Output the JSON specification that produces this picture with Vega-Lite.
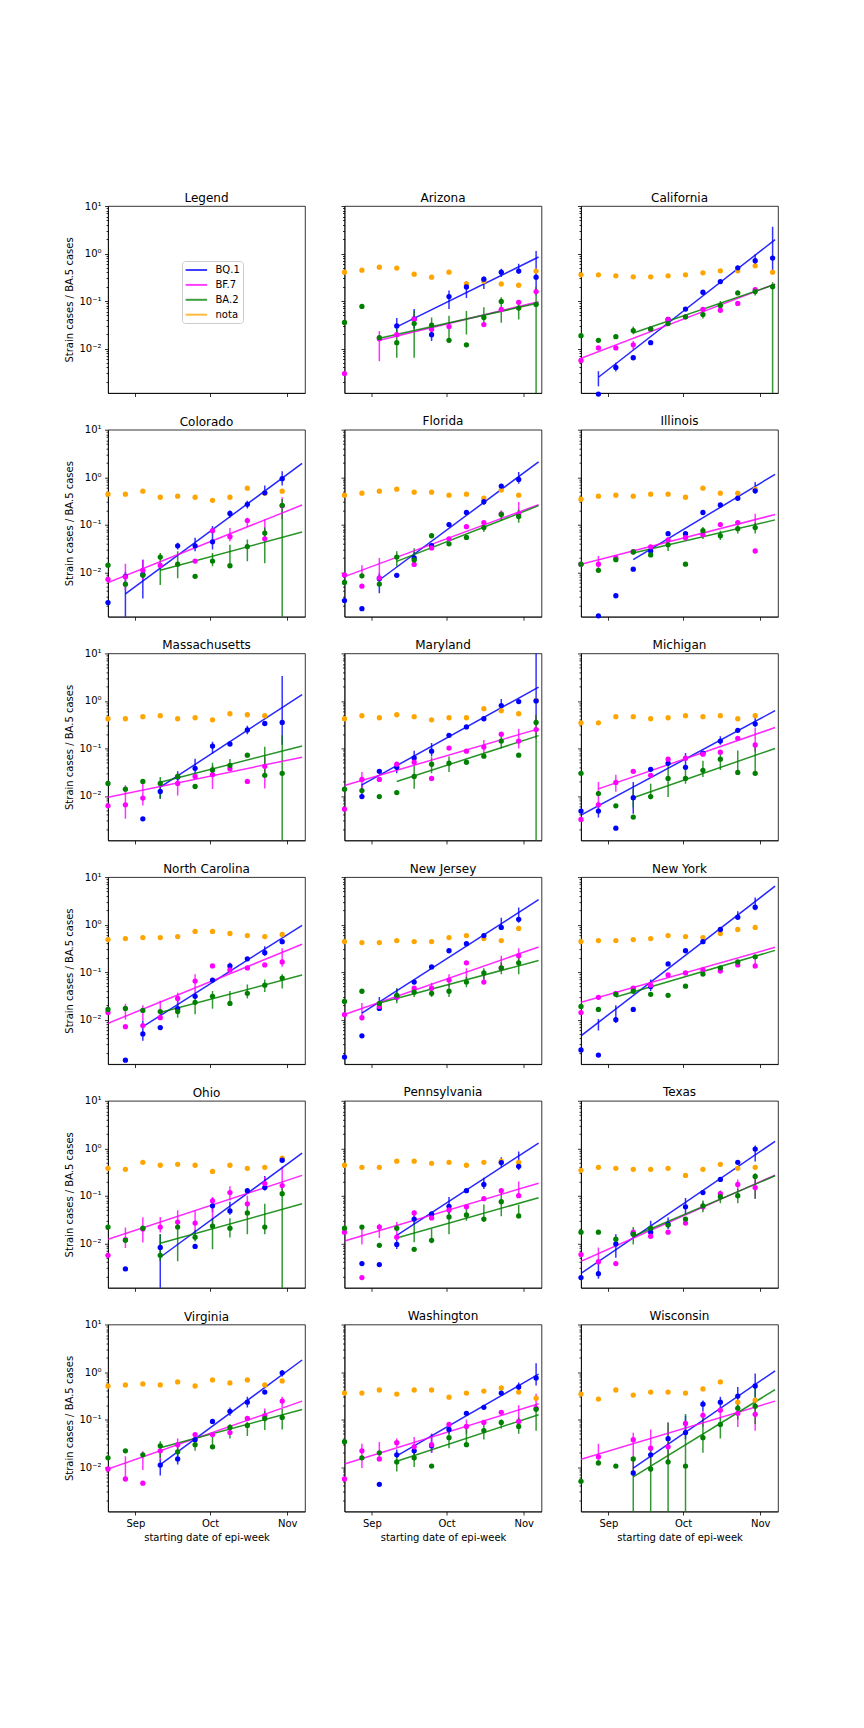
{
"$schema": "https://vega.github.io/schema/vega-lite/v6.json",
"padding": {"left": 64, "top": 191, "right": 10, "bottom": 10},
"background": "white",
"columns": 3,
"bounds": "flush",
"spacing": {"row": 36.7, "column": 39.5},
"data": {"values": [
{"s":"AZ","v":"nota","d":"2022-08-21","k":"p","y":0.405},{"s":"AZ","v":"nota","d":"2022-08-28","k":"p","y":0.447},{"s":"AZ","v":"nota","d":"2022-09-04","k":"p","y":0.517},{"s":"AZ","v":"nota","d":"2022-09-11","k":"p","y":0.493},{"s":"AZ","v":"nota","d":"2022-09-18","k":"p","y":0.367},{"s":"AZ","v":"nota","d":"2022-09-25","k":"p","y":0.318},{"s":"AZ","v":"nota","d":"2022-10-02","k":"p","y":0.405},{"s":"AZ","v":"nota","d":"2022-10-09","k":"p","y":0.229},{"s":"AZ","v":"nota","d":"2022-10-16","k":"p","y":0.261},{"s":"AZ","v":"nota","d":"2022-10-23","k":"p","y":0.229},{"s":"AZ","v":"nota","d":"2022-10-30","k":"p","y":0.215},{"s":"AZ","v":"nota","d":"2022-11-06","k":"p","y":0.426},
{"s":"AZ","v":"BQ.1","d":"2022-09-11","k":"p","y":0.03,"lo":0.02,"hi":0.044},{"s":"AZ","v":"BQ.1","d":"2022-09-18","k":"p","y":0.042,"lo":0.026,"hi":0.068},{"s":"AZ","v":"BQ.1","d":"2022-09-25","k":"p","y":0.0196,"lo":0.0144,"hi":0.0286},{"s":"AZ","v":"BQ.1","d":"2022-10-02","k":"p","y":0.124,"lo":0.0676,"hi":0.166},{"s":"AZ","v":"BQ.1","d":"2022-10-09","k":"p","y":0.198,"lo":0.116,"hi":0.261},{"s":"AZ","v":"BQ.1","d":"2022-10-16","k":"p","y":0.288,"lo":0.18,"hi":0.33},{"s":"AZ","v":"BQ.1","d":"2022-10-23","k":"p","y":0.405,"lo":0.32,"hi":0.48},{"s":"AZ","v":"BQ.1","d":"2022-10-30","k":"p","y":0.426,"lo":0.375,"hi":0.608},{"s":"AZ","v":"BQ.1","d":"2022-11-06","k":"p","y":0.318,"lo":0.17,"hi":1.13},
{"s":"AZ","v":"BQ.1","d":"2022-09-11","k":"f","y":0.0286},{"s":"AZ","v":"BQ.1","d":"2022-11-07","k":"f","y":0.843},
{"s":"AZ","v":"BF.7","d":"2022-08-21","k":"p","y":0.00297},{"s":"AZ","v":"BF.7","d":"2022-09-04","k":"p","y":0.016,"lo":0.0054,"hi":0.0235},{"s":"AZ","v":"BF.7","d":"2022-09-11","k":"p","y":0.0196},{"s":"AZ","v":"BF.7","d":"2022-09-18","k":"p","y":0.0415,"lo":0.033,"hi":0.052},{"s":"AZ","v":"BF.7","d":"2022-09-25","k":"p","y":0.0255},{"s":"AZ","v":"BF.7","d":"2022-10-02","k":"p","y":0.029},{"s":"AZ","v":"BF.7","d":"2022-10-16","k":"p","y":0.032},{"s":"AZ","v":"BF.7","d":"2022-10-23","k":"p","y":0.0665},{"s":"AZ","v":"BF.7","d":"2022-10-30","k":"p","y":0.094},{"s":"AZ","v":"BF.7","d":"2022-11-06","k":"p","y":0.158,"lo":0.131,"hi":0.195},
{"s":"AZ","v":"BF.7","d":"2022-09-04","k":"f","y":0.0149},{"s":"AZ","v":"BF.7","d":"2022-11-07","k":"f","y":0.0968},
{"s":"AZ","v":"BA.2","d":"2022-08-21","k":"p","y":0.0353},{"s":"AZ","v":"BA.2","d":"2022-08-28","k":"p","y":0.077},{"s":"AZ","v":"BA.2","d":"2022-09-04","k":"p","y":0.017},{"s":"AZ","v":"BA.2","d":"2022-09-11","k":"p","y":0.0133,"lo":0.0064,"hi":0.0255},{"s":"AZ","v":"BA.2","d":"2022-09-18","k":"p","y":0.0336,"lo":0.0064,"hi":0.0624},{"s":"AZ","v":"BA.2","d":"2022-09-25","k":"p","y":0.031,"lo":0.017,"hi":0.045},{"s":"AZ","v":"BA.2","d":"2022-10-02","k":"p","y":0.0149,"lo":0.0145,"hi":0.049},{"s":"AZ","v":"BA.2","d":"2022-10-09","k":"p","y":0.012,"lo":0.0197,"hi":0.062},{"s":"AZ","v":"BA.2","d":"2022-10-16","k":"p","y":0.045,"lo":0.03,"hi":0.074},{"s":"AZ","v":"BA.2","d":"2022-10-23","k":"p","y":0.098,"lo":0.035,"hi":0.12},{"s":"AZ","v":"BA.2","d":"2022-10-30","k":"p","y":0.071,"lo":0.041,"hi":0.1},{"s":"AZ","v":"BA.2","d":"2022-11-06","k":"p","y":0.085,"lo":0.0001,"hi":0.195},
{"s":"AZ","v":"BA.2","d":"2022-09-04","k":"f","y":0.0164},{"s":"AZ","v":"BA.2","d":"2022-11-07","k":"f","y":0.0907},

{"s":"CA","v":"nota","d":"2022-08-21","k":"p","y":0.356},{"s":"CA","v":"nota","d":"2022-08-28","k":"p","y":0.356},{"s":"CA","v":"nota","d":"2022-09-04","k":"p","y":0.339},{"s":"CA","v":"nota","d":"2022-09-11","k":"p","y":0.323},{"s":"CA","v":"nota","d":"2022-09-18","k":"p","y":0.323},{"s":"CA","v":"nota","d":"2022-09-25","k":"p","y":0.339},{"s":"CA","v":"nota","d":"2022-10-02","k":"p","y":0.356},{"s":"CA","v":"nota","d":"2022-10-09","k":"p","y":0.393},{"s":"CA","v":"nota","d":"2022-10-16","k":"p","y":0.433},{"s":"CA","v":"nota","d":"2022-10-23","k":"p","y":0.433},{"s":"CA","v":"nota","d":"2022-10-30","k":"p","y":0.552},{"s":"CA","v":"nota","d":"2022-11-06","k":"p","y":0.405},
{"s":"CA","v":"BQ.1","d":"2022-08-28","k":"p","y":0.0011,"lo":0.0016,"hi":0.00334},{"s":"CA","v":"BQ.1","d":"2022-09-04","k":"p","y":0.004,"lo":0.0033,"hi":0.005},{"s":"CA","v":"BQ.1","d":"2022-09-11","k":"p","y":0.0064},{"s":"CA","v":"BQ.1","d":"2022-09-18","k":"p","y":0.0133},{"s":"CA","v":"BQ.1","d":"2022-09-25","k":"p","y":0.041},{"s":"CA","v":"BQ.1","d":"2022-10-02","k":"p","y":0.0676},{"s":"CA","v":"BQ.1","d":"2022-10-09","k":"p","y":0.153},{"s":"CA","v":"BQ.1","d":"2022-10-16","k":"p","y":0.257},{"s":"CA","v":"BQ.1","d":"2022-10-23","k":"p","y":0.501},{"s":"CA","v":"BQ.1","d":"2022-10-30","k":"p","y":0.705,"lo":0.6,"hi":0.95},{"s":"CA","v":"BQ.1","d":"2022-11-06","k":"p","y":0.803,"lo":0.405,"hi":3.65},
{"s":"CA","v":"BQ.1","d":"2022-08-28","k":"f","y":0.00249},{"s":"CA","v":"BQ.1","d":"2022-11-07","k":"f","y":1.96},
{"s":"CA","v":"BF.7","d":"2022-08-21","k":"p","y":0.0056},{"s":"CA","v":"BF.7","d":"2022-08-28","k":"p","y":0.0103},{"s":"CA","v":"BF.7","d":"2022-09-04","k":"p","y":0.0103},{"s":"CA","v":"BF.7","d":"2022-09-11","k":"p","y":0.012,"lo":0.0095,"hi":0.0145},{"s":"CA","v":"BF.7","d":"2022-09-18","k":"p","y":0.0255},{"s":"CA","v":"BF.7","d":"2022-09-25","k":"p","y":0.041},{"s":"CA","v":"BF.7","d":"2022-10-02","k":"p","y":0.0466},{"s":"CA","v":"BF.7","d":"2022-10-09","k":"p","y":0.067},{"s":"CA","v":"BF.7","d":"2022-10-16","k":"p","y":0.064},{"s":"CA","v":"BF.7","d":"2022-10-23","k":"p","y":0.089},{"s":"CA","v":"BF.7","d":"2022-10-30","k":"p","y":0.174},
{"s":"CA","v":"BF.7","d":"2022-08-21","k":"f","y":0.0062},{"s":"CA","v":"BF.7","d":"2022-11-07","k":"f","y":0.229},
{"s":"CA","v":"BA.2","d":"2022-08-21","k":"p","y":0.0187},{"s":"CA","v":"BA.2","d":"2022-08-28","k":"p","y":0.0149},{"s":"CA","v":"BA.2","d":"2022-09-04","k":"p","y":0.0178},{"s":"CA","v":"BA.2","d":"2022-09-11","k":"p","y":0.0239,"lo":0.02,"hi":0.029},{"s":"CA","v":"BA.2","d":"2022-09-18","k":"p","y":0.0259},{"s":"CA","v":"BA.2","d":"2022-09-25","k":"p","y":0.0336},{"s":"CA","v":"BA.2","d":"2022-10-02","k":"p","y":0.0466},{"s":"CA","v":"BA.2","d":"2022-10-09","k":"p","y":0.052,"lo":0.043,"hi":0.064},{"s":"CA","v":"BA.2","d":"2022-10-16","k":"p","y":0.081,"lo":0.067,"hi":0.1},{"s":"CA","v":"BA.2","d":"2022-10-23","k":"p","y":0.148},{"s":"CA","v":"BA.2","d":"2022-10-30","k":"p","y":0.158,"lo":0.13,"hi":0.19},{"s":"CA","v":"BA.2","d":"2022-11-06","k":"p","y":0.2,"lo":0.0001,"hi":0.249},
{"s":"CA","v":"BA.2","d":"2022-09-11","k":"f","y":0.0213},{"s":"CA","v":"BA.2","d":"2022-11-07","k":"f","y":0.224},

{"s":"CO","v":"nota","d":"2022-08-21","k":"p","y":0.44},{"s":"CO","v":"nota","d":"2022-08-28","k":"p","y":0.44},{"s":"CO","v":"nota","d":"2022-09-04","k":"p","y":0.508},{"s":"CO","v":"nota","d":"2022-09-11","k":"p","y":0.379},{"s":"CO","v":"nota","d":"2022-09-18","k":"p","y":0.398},{"s":"CO","v":"nota","d":"2022-09-25","k":"p","y":0.379},{"s":"CO","v":"nota","d":"2022-10-02","k":"p","y":0.327},{"s":"CO","v":"nota","d":"2022-10-09","k":"p","y":0.379},{"s":"CO","v":"nota","d":"2022-10-16","k":"p","y":0.589},{"s":"CO","v":"nota","d":"2022-10-23","k":"p","y":0.461},{"s":"CO","v":"nota","d":"2022-10-30","k":"p","y":0.508},
{"s":"CO","v":"BQ.1","d":"2022-08-21","k":"p","y":0.0023},{"s":"CO","v":"BQ.1","d":"2022-08-28","k":"p","y":0.0082,"lo":0.0005,"hi":0.0103},{"s":"CO","v":"BQ.1","d":"2022-09-04","k":"p","y":0.009,"lo":0.0028,"hi":0.0184},{"s":"CO","v":"BQ.1","d":"2022-09-18","k":"p","y":0.0359,"lo":0.03,"hi":0.042},{"s":"CO","v":"BQ.1","d":"2022-09-25","k":"p","y":0.0359,"lo":0.0275,"hi":0.053},{"s":"CO","v":"BQ.1","d":"2022-10-02","k":"p","y":0.0437,"lo":0.03,"hi":0.094},{"s":"CO","v":"BQ.1","d":"2022-10-09","k":"p","y":0.173,"lo":0.14,"hi":0.2},{"s":"CO","v":"BQ.1","d":"2022-10-16","k":"p","y":0.269,"lo":0.22,"hi":0.32},{"s":"CO","v":"BQ.1","d":"2022-10-23","k":"p","y":0.47,"lo":0.41,"hi":0.67},{"s":"CO","v":"BQ.1","d":"2022-10-30","k":"p","y":0.93,"lo":0.67,"hi":1.34},
{"s":"CO","v":"BQ.1","d":"2022-08-28","k":"f","y":0.0035},{"s":"CO","v":"BQ.1","d":"2022-11-07","k":"f","y":1.95},
{"s":"CO","v":"BF.7","d":"2022-08-21","k":"p","y":0.0071},{"s":"CO","v":"BF.7","d":"2022-08-28","k":"p","y":0.008,"lo":0.0042,"hi":0.0151},{"s":"CO","v":"BF.7","d":"2022-09-04","k":"p","y":0.011,"lo":0.0069,"hi":0.0184},{"s":"CO","v":"BF.7","d":"2022-09-11","k":"p","y":0.0139},{"s":"CO","v":"BF.7","d":"2022-09-25","k":"p","y":0.0172},{"s":"CO","v":"BF.7","d":"2022-10-02","k":"p","y":0.075},{"s":"CO","v":"BF.7","d":"2022-10-09","k":"p","y":0.0558,"lo":0.045,"hi":0.085},{"s":"CO","v":"BF.7","d":"2022-10-16","k":"p","y":0.1225,"lo":0.09,"hi":0.14},{"s":"CO","v":"BF.7","d":"2022-10-23","k":"p","y":0.0506,"lo":0.05,"hi":0.13},{"s":"CO","v":"BF.7","d":"2022-10-30","k":"p","y":0.25,"lo":0.13,"hi":0.38},
{"s":"CO","v":"BF.7","d":"2022-08-21","k":"f","y":0.0061},{"s":"CO","v":"BF.7","d":"2022-11-07","k":"f","y":0.26},
{"s":"CO","v":"BA.2","d":"2022-08-21","k":"p","y":0.0141},{"s":"CO","v":"BA.2","d":"2022-08-28","k":"p","y":0.0056},{"s":"CO","v":"BA.2","d":"2022-09-04","k":"p","y":0.0086},{"s":"CO","v":"BA.2","d":"2022-09-11","k":"p","y":0.0209,"lo":0.0054,"hi":0.0255},{"s":"CO","v":"BA.2","d":"2022-09-18","k":"p","y":0.0148,"lo":0.0075,"hi":0.0277},{"s":"CO","v":"BA.2","d":"2022-09-25","k":"p","y":0.0082},{"s":"CO","v":"BA.2","d":"2022-10-02","k":"p","y":0.0172,"lo":0.0133,"hi":0.0255},{"s":"CO","v":"BA.2","d":"2022-10-09","k":"p","y":0.0137,"lo":0.0155,"hi":0.038},{"s":"CO","v":"BA.2","d":"2022-10-16","k":"p","y":0.0347,"lo":0.0171,"hi":0.049},{"s":"CO","v":"BA.2","d":"2022-10-23","k":"p","y":0.0668,"lo":0.0155,"hi":0.087},{"s":"CO","v":"BA.2","d":"2022-10-30","k":"p","y":0.256,"lo":0.0001,"hi":0.35},
{"s":"CO","v":"BA.2","d":"2022-09-11","k":"f","y":0.011},{"s":"CO","v":"BA.2","d":"2022-11-07","k":"f","y":0.0703},

{"s":"FL","v":"nota","d":"2022-08-21","k":"p","y":0.418},{"s":"FL","v":"nota","d":"2022-08-28","k":"p","y":0.461},{"s":"FL","v":"nota","d":"2022-09-04","k":"p","y":0.508},{"s":"FL","v":"nota","d":"2022-09-11","k":"p","y":0.561},{"s":"FL","v":"nota","d":"2022-09-18","k":"p","y":0.484},{"s":"FL","v":"nota","d":"2022-09-25","k":"p","y":0.484},{"s":"FL","v":"nota","d":"2022-10-02","k":"p","y":0.418},{"s":"FL","v":"nota","d":"2022-10-09","k":"p","y":0.44},{"s":"FL","v":"nota","d":"2022-10-16","k":"p","y":0.361},{"s":"FL","v":"nota","d":"2022-10-23","k":"p","y":0.535},{"s":"FL","v":"nota","d":"2022-10-30","k":"p","y":0.418},
{"s":"FL","v":"BQ.1","d":"2022-08-21","k":"p","y":0.00254},{"s":"FL","v":"BQ.1","d":"2022-08-28","k":"p","y":0.00171},{"s":"FL","v":"BQ.1","d":"2022-09-04","k":"p","y":0.0073,"lo":0.0036,"hi":0.0095},{"s":"FL","v":"BQ.1","d":"2022-09-11","k":"p","y":0.0086},{"s":"FL","v":"BQ.1","d":"2022-09-18","k":"p","y":0.02,"lo":0.016,"hi":0.027},{"s":"FL","v":"BQ.1","d":"2022-09-25","k":"p","y":0.0365},{"s":"FL","v":"BQ.1","d":"2022-10-02","k":"p","y":0.1007},{"s":"FL","v":"BQ.1","d":"2022-10-09","k":"p","y":0.181},{"s":"FL","v":"BQ.1","d":"2022-10-16","k":"p","y":0.306,"lo":0.26,"hi":0.4},{"s":"FL","v":"BQ.1","d":"2022-10-23","k":"p","y":0.65},{"s":"FL","v":"BQ.1","d":"2022-10-30","k":"p","y":0.9,"lo":0.73,"hi":1.29},
{"s":"FL","v":"BQ.1","d":"2022-09-04","k":"f","y":0.00687},{"s":"FL","v":"BQ.1","d":"2022-11-07","k":"f","y":2.11},
{"s":"FL","v":"BF.7","d":"2022-08-21","k":"p","y":0.0088},{"s":"FL","v":"BF.7","d":"2022-08-28","k":"p","y":0.0051,"lo":0.0075,"hi":0.0141},{"s":"FL","v":"BF.7","d":"2022-09-04","k":"p","y":0.0076,"lo":0.0076,"hi":0.0199},{"s":"FL","v":"BF.7","d":"2022-09-18","k":"p","y":0.0146},{"s":"FL","v":"BF.7","d":"2022-09-25","k":"p","y":0.0325},{"s":"FL","v":"BF.7","d":"2022-10-02","k":"p","y":0.0506},{"s":"FL","v":"BF.7","d":"2022-10-09","k":"p","y":0.0912},{"s":"FL","v":"BF.7","d":"2022-10-16","k":"p","y":0.111},{"s":"FL","v":"BF.7","d":"2022-10-23","k":"p","y":0.17},{"s":"FL","v":"BF.7","d":"2022-10-30","k":"p","y":0.17,"lo":0.13,"hi":0.3},
{"s":"FL","v":"BF.7","d":"2022-08-21","k":"f","y":0.0081},{"s":"FL","v":"BF.7","d":"2022-11-07","k":"f","y":0.264},
{"s":"FL","v":"BA.2","d":"2022-08-21","k":"p","y":0.0061},{"s":"FL","v":"BA.2","d":"2022-08-28","k":"p","y":0.0084},{"s":"FL","v":"BA.2","d":"2022-09-04","k":"p","y":0.00565},{"s":"FL","v":"BA.2","d":"2022-09-11","k":"p","y":0.0209,"lo":0.0133,"hi":0.0277},{"s":"FL","v":"BA.2","d":"2022-09-18","k":"p","y":0.0181,"lo":0.0133,"hi":0.032},{"s":"FL","v":"BA.2","d":"2022-09-25","k":"p","y":0.0586},{"s":"FL","v":"BA.2","d":"2022-10-02","k":"p","y":0.0396},{"s":"FL","v":"BA.2","d":"2022-10-09","k":"p","y":0.054},{"s":"FL","v":"BA.2","d":"2022-10-16","k":"p","y":0.087,"lo":0.07,"hi":0.11},{"s":"FL","v":"BA.2","d":"2022-10-23","k":"p","y":0.164,"lo":0.12,"hi":0.2},{"s":"FL","v":"BA.2","d":"2022-10-30","k":"p","y":0.149,"lo":0.11,"hi":0.21},
{"s":"FL","v":"BA.2","d":"2022-09-11","k":"f","y":0.0169},{"s":"FL","v":"BA.2","d":"2022-11-07","k":"f","y":0.252},

{"s":"IL","v":"nota","d":"2022-08-21","k":"p","y":0.344},{"s":"IL","v":"nota","d":"2022-08-28","k":"p","y":0.398},{"s":"IL","v":"nota","d":"2022-09-04","k":"p","y":0.418},{"s":"IL","v":"nota","d":"2022-09-11","k":"p","y":0.398},{"s":"IL","v":"nota","d":"2022-09-18","k":"p","y":0.44},{"s":"IL","v":"nota","d":"2022-09-25","k":"p","y":0.44},{"s":"IL","v":"nota","d":"2022-10-02","k":"p","y":0.379},{"s":"IL","v":"nota","d":"2022-10-09","k":"p","y":0.589},{"s":"IL","v":"nota","d":"2022-10-16","k":"p","y":0.461},{"s":"IL","v":"nota","d":"2022-10-23","k":"p","y":0.461},{"s":"IL","v":"nota","d":"2022-10-30","k":"p","y":0.561},
{"s":"IL","v":"BQ.1","d":"2022-08-28","k":"p","y":0.00121},{"s":"IL","v":"BQ.1","d":"2022-09-04","k":"p","y":0.0032},{"s":"IL","v":"BQ.1","d":"2022-09-11","k":"p","y":0.0116},{"s":"IL","v":"BQ.1","d":"2022-09-18","k":"p","y":0.028},{"s":"IL","v":"BQ.1","d":"2022-09-25","k":"p","y":0.0647},{"s":"IL","v":"BQ.1","d":"2022-10-02","k":"p","y":0.0647},{"s":"IL","v":"BQ.1","d":"2022-10-09","k":"p","y":0.181},{"s":"IL","v":"BQ.1","d":"2022-10-16","k":"p","y":0.26},{"s":"IL","v":"BQ.1","d":"2022-10-23","k":"p","y":0.361},{"s":"IL","v":"BQ.1","d":"2022-10-30","k":"p","y":0.518,"lo":0.45,"hi":0.79},
{"s":"IL","v":"BQ.1","d":"2022-09-11","k":"f","y":0.0184},{"s":"IL","v":"BQ.1","d":"2022-11-07","k":"f","y":1.15},
{"s":"IL","v":"BF.7","d":"2022-08-21","k":"p","y":0.0148},{"s":"IL","v":"BF.7","d":"2022-08-28","k":"p","y":0.0148,"lo":0.011,"hi":0.022},{"s":"IL","v":"BF.7","d":"2022-09-04","k":"p","y":0.02},{"s":"IL","v":"BF.7","d":"2022-09-11","k":"p","y":0.027},{"s":"IL","v":"BF.7","d":"2022-09-18","k":"p","y":0.0342},{"s":"IL","v":"BF.7","d":"2022-09-25","k":"p","y":0.0482},{"s":"IL","v":"BF.7","d":"2022-10-02","k":"p","y":0.0532},{"s":"IL","v":"BF.7","d":"2022-10-09","k":"p","y":0.0617},{"s":"IL","v":"BF.7","d":"2022-10-16","k":"p","y":0.1007},{"s":"IL","v":"BF.7","d":"2022-10-23","k":"p","y":0.111},{"s":"IL","v":"BF.7","d":"2022-10-30","k":"p","y":0.028,"lo":0.08,"hi":0.17},
{"s":"IL","v":"BF.7","d":"2022-08-21","k":"f","y":0.0148},{"s":"IL","v":"BF.7","d":"2022-11-07","k":"f","y":0.164},
{"s":"IL","v":"BA.2","d":"2022-08-21","k":"p","y":0.0148},{"s":"IL","v":"BA.2","d":"2022-08-28","k":"p","y":0.011},{"s":"IL","v":"BA.2","d":"2022-09-04","k":"p","y":0.0184},{"s":"IL","v":"BA.2","d":"2022-09-11","k":"p","y":0.0267},{"s":"IL","v":"BA.2","d":"2022-09-18","k":"p","y":0.0231},{"s":"IL","v":"BA.2","d":"2022-09-25","k":"p","y":0.0377,"lo":0.028,"hi":0.05},{"s":"IL","v":"BA.2","d":"2022-10-02","k":"p","y":0.0148},{"s":"IL","v":"BA.2","d":"2022-10-09","k":"p","y":0.075,"lo":0.05,"hi":0.09},{"s":"IL","v":"BA.2","d":"2022-10-16","k":"p","y":0.0586,"lo":0.048,"hi":0.075},{"s":"IL","v":"BA.2","d":"2022-10-23","k":"p","y":0.0828,"lo":0.065,"hi":0.1},{"s":"IL","v":"BA.2","d":"2022-10-30","k":"p","y":0.087,"lo":0.065,"hi":0.11},
{"s":"IL","v":"BA.2","d":"2022-09-11","k":"f","y":0.0255},{"s":"IL","v":"BA.2","d":"2022-11-07","k":"f","y":0.1265},

{"s":"MA","v":"nota","d":"2022-08-21","k":"p","y":0.421},{"s":"MA","v":"nota","d":"2022-08-28","k":"p","y":0.421},{"s":"MA","v":"nota","d":"2022-09-04","k":"p","y":0.465},{"s":"MA","v":"nota","d":"2022-09-11","k":"p","y":0.488},{"s":"MA","v":"nota","d":"2022-09-18","k":"p","y":0.421},{"s":"MA","v":"nota","d":"2022-09-25","k":"p","y":0.442},{"s":"MA","v":"nota","d":"2022-10-02","k":"p","y":0.401},{"s":"MA","v":"nota","d":"2022-10-09","k":"p","y":0.537},{"s":"MA","v":"nota","d":"2022-10-16","k":"p","y":0.512},{"s":"MA","v":"nota","d":"2022-10-23","k":"p","y":0.488},
{"s":"MA","v":"BQ.1","d":"2022-09-04","k":"p","y":0.0033},{"s":"MA","v":"BQ.1","d":"2022-09-11","k":"p","y":0.0124,"lo":0.0087,"hi":0.0168},{"s":"MA","v":"BQ.1","d":"2022-09-18","k":"p","y":0.025,"lo":0.018,"hi":0.033},{"s":"MA","v":"BQ.1","d":"2022-09-25","k":"p","y":0.0382,"lo":0.0271,"hi":0.061},{"s":"MA","v":"BQ.1","d":"2022-10-02","k":"p","y":0.112,"lo":0.078,"hi":0.139},{"s":"MA","v":"BQ.1","d":"2022-10-09","k":"p","y":0.124},{"s":"MA","v":"BQ.1","d":"2022-10-16","k":"p","y":0.245,"lo":0.2,"hi":0.3},{"s":"MA","v":"BQ.1","d":"2022-10-23","k":"p","y":0.335},{"s":"MA","v":"BQ.1","d":"2022-10-30","k":"p","y":0.352,"lo":0.12,"hi":3.35},
{"s":"MA","v":"BQ.1","d":"2022-09-11","k":"f","y":0.0153},{"s":"MA","v":"BQ.1","d":"2022-11-07","k":"f","y":1.36},
{"s":"MA","v":"BF.7","d":"2022-08-21","k":"p","y":0.0062},{"s":"MA","v":"BF.7","d":"2022-08-28","k":"p","y":0.0065,"lo":0.0033,"hi":0.0168},{"s":"MA","v":"BF.7","d":"2022-09-04","k":"p","y":0.009,"lo":0.0063,"hi":0.0196},{"s":"MA","v":"BF.7","d":"2022-09-18","k":"p","y":0.0183,"lo":0.0102,"hi":0.0294},{"s":"MA","v":"BF.7","d":"2022-09-25","k":"p","y":0.0258},{"s":"MA","v":"BF.7","d":"2022-10-02","k":"p","y":0.028,"lo":0.014,"hi":0.043},{"s":"MA","v":"BF.7","d":"2022-10-09","k":"p","y":0.0375},{"s":"MA","v":"BF.7","d":"2022-10-16","k":"p","y":0.0202},{"s":"MA","v":"BF.7","d":"2022-10-23","k":"p","y":0.042,"lo":0.0143,"hi":0.066},
{"s":"MA","v":"BF.7","d":"2022-08-21","k":"f","y":0.0094},{"s":"MA","v":"BF.7","d":"2022-11-07","k":"f","y":0.0655},
{"s":"MA","v":"BA.2","d":"2022-08-21","k":"p","y":0.0183},{"s":"MA","v":"BA.2","d":"2022-08-28","k":"p","y":0.0139},{"s":"MA","v":"BA.2","d":"2022-09-04","k":"p","y":0.0202},{"s":"MA","v":"BA.2","d":"2022-09-11","k":"p","y":0.0183,"lo":0.0087,"hi":0.025},{"s":"MA","v":"BA.2","d":"2022-09-18","k":"p","y":0.0258},{"s":"MA","v":"BA.2","d":"2022-09-25","k":"p","y":0.0158},{"s":"MA","v":"BA.2","d":"2022-10-02","k":"p","y":0.0352,"lo":0.025,"hi":0.05},{"s":"MA","v":"BA.2","d":"2022-10-09","k":"p","y":0.0441,"lo":0.035,"hi":0.06},{"s":"MA","v":"BA.2","d":"2022-10-16","k":"p","y":0.0721},{"s":"MA","v":"BA.2","d":"2022-10-23","k":"p","y":0.0271,"lo":0.027,"hi":0.109},{"s":"MA","v":"BA.2","d":"2022-10-30","k":"p","y":0.03,"lo":0.0001,"hi":0.19},
{"s":"MA","v":"BA.2","d":"2022-09-11","k":"f","y":0.0195},{"s":"MA","v":"BA.2","d":"2022-11-07","k":"f","y":0.112},

{"s":"MD","v":"nota","d":"2022-08-21","k":"p","y":0.421},{"s":"MD","v":"nota","d":"2022-08-28","k":"p","y":0.488},{"s":"MD","v":"nota","d":"2022-09-04","k":"p","y":0.442},{"s":"MD","v":"nota","d":"2022-09-11","k":"p","y":0.512},{"s":"MD","v":"nota","d":"2022-09-18","k":"p","y":0.465},{"s":"MD","v":"nota","d":"2022-09-25","k":"p","y":0.401},{"s":"MD","v":"nota","d":"2022-10-02","k":"p","y":0.442},{"s":"MD","v":"nota","d":"2022-10-09","k":"p","y":0.442},{"s":"MD","v":"nota","d":"2022-10-16","k":"p","y":0.687},{"s":"MD","v":"nota","d":"2022-10-23","k":"p","y":0.622},{"s":"MD","v":"nota","d":"2022-10-30","k":"p","y":0.537},{"s":"MD","v":"nota","d":"2022-11-06","k":"p","y":1.02},
{"s":"MD","v":"BQ.1","d":"2022-08-28","k":"p","y":0.0097,"lo":0.0088,"hi":0.0181},{"s":"MD","v":"BQ.1","d":"2022-09-04","k":"p","y":0.033},{"s":"MD","v":"BQ.1","d":"2022-09-11","k":"p","y":0.04,"lo":0.03,"hi":0.05},{"s":"MD","v":"BQ.1","d":"2022-09-18","k":"p","y":0.063,"lo":0.052,"hi":0.089},{"s":"MD","v":"BQ.1","d":"2022-09-25","k":"p","y":0.0877,"lo":0.0676,"hi":0.13},{"s":"MD","v":"BQ.1","d":"2022-10-02","k":"p","y":0.189},{"s":"MD","v":"BQ.1","d":"2022-10-09","k":"p","y":0.284},{"s":"MD","v":"BQ.1","d":"2022-10-16","k":"p","y":0.421},{"s":"MD","v":"BQ.1","d":"2022-10-23","k":"p","y":0.797,"lo":0.62,"hi":1.1},{"s":"MD","v":"BQ.1","d":"2022-10-30","k":"p","y":0.968},{"s":"MD","v":"BQ.1","d":"2022-11-06","k":"p","y":1.0,"lo":0.35,"hi":30},
{"s":"MD","v":"BQ.1","d":"2022-08-28","k":"f","y":0.0171},{"s":"MD","v":"BQ.1","d":"2022-11-07","k":"f","y":1.95},
{"s":"MD","v":"BF.7","d":"2022-08-21","k":"p","y":0.0053},{"s":"MD","v":"BF.7","d":"2022-08-28","k":"p","y":0.0223,"lo":0.0142,"hi":0.032},{"s":"MD","v":"BF.7","d":"2022-09-04","k":"p","y":0.0223},{"s":"MD","v":"BF.7","d":"2022-09-11","k":"p","y":0.0465},{"s":"MD","v":"BF.7","d":"2022-09-18","k":"p","y":0.0512},{"s":"MD","v":"BF.7","d":"2022-09-25","k":"p","y":0.0234},{"s":"MD","v":"BF.7","d":"2022-10-02","k":"p","y":0.1017},{"s":"MD","v":"BF.7","d":"2022-10-09","k":"p","y":0.0877},{"s":"MD","v":"BF.7","d":"2022-10-16","k":"p","y":0.1067,"lo":0.08,"hi":0.15},{"s":"MD","v":"BF.7","d":"2022-10-23","k":"p","y":0.199},{"s":"MD","v":"BF.7","d":"2022-10-30","k":"p","y":0.143,"lo":0.1,"hi":0.26},{"s":"MD","v":"BF.7","d":"2022-11-06","k":"p","y":0.25,"lo":0.16,"hi":0.51},
{"s":"MD","v":"BF.7","d":"2022-08-21","k":"f","y":0.0166},{"s":"MD","v":"BF.7","d":"2022-11-07","k":"f","y":0.258},
{"s":"MD","v":"BA.2","d":"2022-08-21","k":"p","y":0.0139},{"s":"MD","v":"BA.2","d":"2022-08-28","k":"p","y":0.013},{"s":"MD","v":"BA.2","d":"2022-09-04","k":"p","y":0.0097},{"s":"MD","v":"BA.2","d":"2022-09-11","k":"p","y":0.0118},{"s":"MD","v":"BA.2","d":"2022-09-18","k":"p","y":0.0258,"lo":0.0142,"hi":0.0436},{"s":"MD","v":"BA.2","d":"2022-09-25","k":"p","y":0.0465,"lo":0.03,"hi":0.065},{"s":"MD","v":"BA.2","d":"2022-10-02","k":"p","y":0.0488,"lo":0.032,"hi":0.068},{"s":"MD","v":"BA.2","d":"2022-10-09","k":"p","y":0.0512},{"s":"MD","v":"BA.2","d":"2022-10-16","k":"p","y":0.0687},{"s":"MD","v":"BA.2","d":"2022-10-23","k":"p","y":0.143,"lo":0.1,"hi":0.2},{"s":"MD","v":"BA.2","d":"2022-10-30","k":"p","y":0.0721},{"s":"MD","v":"BA.2","d":"2022-11-06","k":"p","y":0.352,"lo":0.0001,"hi":0.51},
{"s":"MD","v":"BA.2","d":"2022-09-11","k":"f","y":0.0202},{"s":"MD","v":"BA.2","d":"2022-11-07","k":"f","y":0.186},

{"s":"MI","v":"nota","d":"2022-08-21","k":"p","y":0.346},{"s":"MI","v":"nota","d":"2022-08-28","k":"p","y":0.346},{"s":"MI","v":"nota","d":"2022-09-04","k":"p","y":0.465},{"s":"MI","v":"nota","d":"2022-09-11","k":"p","y":0.465},{"s":"MI","v":"nota","d":"2022-09-18","k":"p","y":0.421},{"s":"MI","v":"nota","d":"2022-09-25","k":"p","y":0.442},{"s":"MI","v":"nota","d":"2022-10-02","k":"p","y":0.488},{"s":"MI","v":"nota","d":"2022-10-09","k":"p","y":0.465},{"s":"MI","v":"nota","d":"2022-10-16","k":"p","y":0.488},{"s":"MI","v":"nota","d":"2022-10-23","k":"p","y":0.421},{"s":"MI","v":"nota","d":"2022-10-30","k":"p","y":0.488},
{"s":"MI","v":"BQ.1","d":"2022-08-21","k":"p","y":0.0048},{"s":"MI","v":"BQ.1","d":"2022-08-28","k":"p","y":0.0048,"lo":0.0035,"hi":0.0075},{"s":"MI","v":"BQ.1","d":"2022-09-04","k":"p","y":0.0021},{"s":"MI","v":"BQ.1","d":"2022-09-11","k":"p","y":0.0092,"lo":0.0042,"hi":0.0196},{"s":"MI","v":"BQ.1","d":"2022-09-18","k":"p","y":0.0363},{"s":"MI","v":"BQ.1","d":"2022-09-25","k":"p","y":0.0488},{"s":"MI","v":"BQ.1","d":"2022-10-02","k":"p","y":0.0401,"lo":0.04,"hi":0.08},{"s":"MI","v":"BQ.1","d":"2022-10-09","k":"p","y":0.0796},{"s":"MI","v":"BQ.1","d":"2022-10-16","k":"p","y":0.143,"lo":0.12,"hi":0.18},{"s":"MI","v":"BQ.1","d":"2022-10-23","k":"p","y":0.241},{"s":"MI","v":"BQ.1","d":"2022-10-30","k":"p","y":0.33,"lo":0.28,"hi":0.45},
{"s":"MI","v":"BQ.1","d":"2022-08-21","k":"f","y":0.00395},{"s":"MI","v":"BQ.1","d":"2022-11-07","k":"f","y":0.622},
{"s":"MI","v":"BF.7","d":"2022-08-21","k":"p","y":0.0032},{"s":"MI","v":"BF.7","d":"2022-08-28","k":"p","y":0.0065,"lo":0.0058,"hi":0.0196},{"s":"MI","v":"BF.7","d":"2022-09-04","k":"p","y":0.0192,"lo":0.0122,"hi":0.028},{"s":"MI","v":"BF.7","d":"2022-09-11","k":"p","y":0.033},{"s":"MI","v":"BF.7","d":"2022-09-18","k":"p","y":0.0271},{"s":"MI","v":"BF.7","d":"2022-09-25","k":"p","y":0.0593},{"s":"MI","v":"BF.7","d":"2022-10-02","k":"p","y":0.0622},{"s":"MI","v":"BF.7","d":"2022-10-09","k":"p","y":0.0757},{"s":"MI","v":"BF.7","d":"2022-10-16","k":"p","y":0.0835},{"s":"MI","v":"BF.7","d":"2022-10-23","k":"p","y":0.163},{"s":"MI","v":"BF.7","d":"2022-10-30","k":"p","y":0.118,"lo":0.086,"hi":0.27},
{"s":"MI","v":"BF.7","d":"2022-08-28","k":"f","y":0.0141},{"s":"MI","v":"BF.7","d":"2022-11-07","k":"f","y":0.275},
{"s":"MI","v":"BA.2","d":"2022-08-21","k":"p","y":0.0299},{"s":"MI","v":"BA.2","d":"2022-08-28","k":"p","y":0.0112},{"s":"MI","v":"BA.2","d":"2022-09-04","k":"p","y":0.0062},{"s":"MI","v":"BA.2","d":"2022-09-11","k":"p","y":0.0036,"lo":0.0058,"hi":0.0142},{"s":"MI","v":"BA.2","d":"2022-09-18","k":"p","y":0.0097,"lo":0.0085,"hi":0.018},{"s":"MI","v":"BA.2","d":"2022-09-25","k":"p","y":0.0234,"lo":0.0095,"hi":0.0436},{"s":"MI","v":"BA.2","d":"2022-10-02","k":"p","y":0.0234,"lo":0.018,"hi":0.04},{"s":"MI","v":"BA.2","d":"2022-10-09","k":"p","y":0.0346,"lo":0.025,"hi":0.055},{"s":"MI","v":"BA.2","d":"2022-10-16","k":"p","y":0.0593,"lo":0.035,"hi":0.09},{"s":"MI","v":"BA.2","d":"2022-10-23","k":"p","y":0.0313,"lo":0.03,"hi":0.09},{"s":"MI","v":"BA.2","d":"2022-10-30","k":"p","y":0.0299,"lo":0.03,"hi":0.11},
{"s":"MI","v":"BA.2","d":"2022-09-11","k":"f","y":0.0092},{"s":"MI","v":"BA.2","d":"2022-11-07","k":"f","y":0.1},

{"s":"NC","v":"nota","d":"2022-08-21","k":"p","y":0.484},{"s":"NC","v":"nota","d":"2022-08-28","k":"p","y":0.508},{"s":"NC","v":"nota","d":"2022-09-04","k":"p","y":0.535},{"s":"NC","v":"nota","d":"2022-09-11","k":"p","y":0.535},{"s":"NC","v":"nota","d":"2022-09-18","k":"p","y":0.561},{"s":"NC","v":"nota","d":"2022-09-25","k":"p","y":0.718},{"s":"NC","v":"nota","d":"2022-10-02","k":"p","y":0.718},{"s":"NC","v":"nota","d":"2022-10-09","k":"p","y":0.65},{"s":"NC","v":"nota","d":"2022-10-16","k":"p","y":0.589},{"s":"NC","v":"nota","d":"2022-10-23","k":"p","y":0.561},{"s":"NC","v":"nota","d":"2022-10-30","k":"p","y":0.619},
{"s":"NC","v":"BQ.1","d":"2022-08-28","k":"p","y":0.0014},{"s":"NC","v":"BQ.1","d":"2022-09-04","k":"p","y":0.005,"lo":0.0036,"hi":0.0095},{"s":"NC","v":"BQ.1","d":"2022-09-11","k":"p","y":0.0068},{"s":"NC","v":"BQ.1","d":"2022-09-18","k":"p","y":0.017,"lo":0.0133,"hi":0.0277},{"s":"NC","v":"BQ.1","d":"2022-09-25","k":"p","y":0.031},{"s":"NC","v":"BQ.1","d":"2022-10-02","k":"p","y":0.0679},{"s":"NC","v":"BQ.1","d":"2022-10-09","k":"p","y":0.135},{"s":"NC","v":"BQ.1","d":"2022-10-16","k":"p","y":0.1905},{"s":"NC","v":"BQ.1","d":"2022-10-23","k":"p","y":0.256,"lo":0.22,"hi":0.35},{"s":"NC","v":"BQ.1","d":"2022-10-30","k":"p","y":0.438},
{"s":"NC","v":"BQ.1","d":"2022-09-04","k":"f","y":0.0071},{"s":"NC","v":"BQ.1","d":"2022-11-07","k":"f","y":0.964},
{"s":"NC","v":"BF.7","d":"2022-08-21","k":"p","y":0.0141},{"s":"NC","v":"BF.7","d":"2022-08-28","k":"p","y":0.0071,"lo":0.01,"hi":0.0216},{"s":"NC","v":"BF.7","d":"2022-09-04","k":"p","y":0.0075,"lo":0.0095,"hi":0.02},{"s":"NC","v":"BF.7","d":"2022-09-11","k":"p","y":0.011,"lo":0.012,"hi":0.025},{"s":"NC","v":"BF.7","d":"2022-09-18","k":"p","y":0.028,"lo":0.02,"hi":0.037},{"s":"NC","v":"BF.7","d":"2022-09-25","k":"p","y":0.0647,"lo":0.03,"hi":0.09},{"s":"NC","v":"BF.7","d":"2022-10-02","k":"p","y":0.135},{"s":"NC","v":"BF.7","d":"2022-10-09","k":"p","y":0.111,"lo":0.1,"hi":0.16},{"s":"NC","v":"BF.7","d":"2022-10-16","k":"p","y":0.1225},{"s":"NC","v":"BF.7","d":"2022-10-23","k":"p","y":0.142},{"s":"NC","v":"BF.7","d":"2022-10-30","k":"p","y":0.164,"lo":0.13,"hi":0.32},
{"s":"NC","v":"BF.7","d":"2022-08-21","k":"f","y":0.00838},{"s":"NC","v":"BF.7","d":"2022-11-07","k":"f","y":0.385},
{"s":"NC","v":"BA.2","d":"2022-08-21","k":"p","y":0.0164},{"s":"NC","v":"BA.2","d":"2022-08-28","k":"p","y":0.0172},{"s":"NC","v":"BA.2","d":"2022-09-04","k":"p","y":0.0156},{"s":"NC","v":"BA.2","d":"2022-09-11","k":"p","y":0.0148},{"s":"NC","v":"BA.2","d":"2022-09-18","k":"p","y":0.0148,"lo":0.011,"hi":0.02},{"s":"NC","v":"BA.2","d":"2022-09-25","k":"p","y":0.0231,"lo":0.013,"hi":0.03},{"s":"NC","v":"BA.2","d":"2022-10-02","k":"p","y":0.031,"lo":0.017,"hi":0.04},{"s":"NC","v":"BA.2","d":"2022-10-09","k":"p","y":0.022,"lo":0.022,"hi":0.04},{"s":"NC","v":"BA.2","d":"2022-10-16","k":"p","y":0.0359,"lo":0.028,"hi":0.055},{"s":"NC","v":"BA.2","d":"2022-10-23","k":"p","y":0.0532,"lo":0.038,"hi":0.07},{"s":"NC","v":"BA.2","d":"2022-10-30","k":"p","y":0.075,"lo":0.045,"hi":0.09},
{"s":"NC","v":"BA.2","d":"2022-09-11","k":"f","y":0.0141},{"s":"NC","v":"BA.2","d":"2022-11-07","k":"f","y":0.087},

{"s":"NJ","v":"nota","d":"2022-08-21","k":"p","y":0.44},{"s":"NJ","v":"nota","d":"2022-08-28","k":"p","y":0.418},{"s":"NJ","v":"nota","d":"2022-09-04","k":"p","y":0.418},{"s":"NJ","v":"nota","d":"2022-09-11","k":"p","y":0.461},{"s":"NJ","v":"nota","d":"2022-09-18","k":"p","y":0.44},{"s":"NJ","v":"nota","d":"2022-09-25","k":"p","y":0.44},{"s":"NJ","v":"nota","d":"2022-10-02","k":"p","y":0.535},{"s":"NJ","v":"nota","d":"2022-10-09","k":"p","y":0.589},{"s":"NJ","v":"nota","d":"2022-10-16","k":"p","y":0.508},{"s":"NJ","v":"nota","d":"2022-10-23","k":"p","y":0.461},{"s":"NJ","v":"nota","d":"2022-10-30","k":"p","y":0.832},
{"s":"NJ","v":"BQ.1","d":"2022-08-21","k":"p","y":0.00163},{"s":"NJ","v":"BQ.1","d":"2022-08-28","k":"p","y":0.00457},{"s":"NJ","v":"BQ.1","d":"2022-09-04","k":"p","y":0.0172,"lo":0.0156,"hi":0.0298},{"s":"NJ","v":"BQ.1","d":"2022-09-11","k":"p","y":0.03,"lo":0.025,"hi":0.045},{"s":"NJ","v":"BQ.1","d":"2022-09-18","k":"p","y":0.0617},{"s":"NJ","v":"BQ.1","d":"2022-09-25","k":"p","y":0.1285},{"s":"NJ","v":"BQ.1","d":"2022-10-02","k":"p","y":0.282},{"s":"NJ","v":"BQ.1","d":"2022-10-09","k":"p","y":0.398},{"s":"NJ","v":"BQ.1","d":"2022-10-16","k":"p","y":0.589},{"s":"NJ","v":"BQ.1","d":"2022-10-23","k":"p","y":0.873,"lo":0.8,"hi":1.4},{"s":"NJ","v":"BQ.1","d":"2022-10-30","k":"p","y":1.29,"lo":1.1,"hi":2.29},
{"s":"NJ","v":"BQ.1","d":"2022-08-28","k":"f","y":0.0137},{"s":"NJ","v":"BQ.1","d":"2022-11-07","k":"f","y":3.34},
{"s":"NJ","v":"BF.7","d":"2022-08-21","k":"p","y":0.0128},{"s":"NJ","v":"BF.7","d":"2022-08-28","k":"p","y":0.011,"lo":0.0096,"hi":0.0224},{"s":"NJ","v":"BF.7","d":"2022-09-04","k":"p","y":0.019},{"s":"NJ","v":"BF.7","d":"2022-09-11","k":"p","y":0.0295},{"s":"NJ","v":"BF.7","d":"2022-09-18","k":"p","y":0.0459},{"s":"NJ","v":"BF.7","d":"2022-09-25","k":"p","y":0.0459,"lo":0.035,"hi":0.06},{"s":"NJ","v":"BF.7","d":"2022-10-02","k":"p","y":0.0679,"lo":0.05,"hi":0.09},{"s":"NJ","v":"BF.7","d":"2022-10-09","k":"p","y":0.157,"lo":0.07,"hi":0.12},{"s":"NJ","v":"BF.7","d":"2022-10-16","k":"p","y":0.0617,"lo":0.061,"hi":0.11},{"s":"NJ","v":"BF.7","d":"2022-10-23","k":"p","y":0.1225,"lo":0.11,"hi":0.22},{"s":"NJ","v":"BF.7","d":"2022-10-30","k":"p","y":0.221,"lo":0.17,"hi":0.32},
{"s":"NJ","v":"BF.7","d":"2022-08-21","k":"f","y":0.0128},{"s":"NJ","v":"BF.7","d":"2022-11-07","k":"f","y":0.338},
{"s":"NJ","v":"BA.2","d":"2022-08-21","k":"p","y":0.0242},{"s":"NJ","v":"BA.2","d":"2022-08-28","k":"p","y":0.0396},{"s":"NJ","v":"BA.2","d":"2022-09-04","k":"p","y":0.022},{"s":"NJ","v":"BA.2","d":"2022-09-11","k":"p","y":0.0325,"lo":0.0222,"hi":0.045},{"s":"NJ","v":"BA.2","d":"2022-09-18","k":"p","y":0.0377,"lo":0.03,"hi":0.05},{"s":"NJ","v":"BA.2","d":"2022-09-25","k":"p","y":0.0359,"lo":0.03,"hi":0.05},{"s":"NJ","v":"BA.2","d":"2022-10-02","k":"p","y":0.0396,"lo":0.03,"hi":0.055},{"s":"NJ","v":"BA.2","d":"2022-10-09","k":"p","y":0.0617,"lo":0.048,"hi":0.08},{"s":"NJ","v":"BA.2","d":"2022-10-16","k":"p","y":0.096,"lo":0.07,"hi":0.12},{"s":"NJ","v":"BA.2","d":"2022-10-23","k":"p","y":0.1225,"lo":0.09,"hi":0.16},{"s":"NJ","v":"BA.2","d":"2022-10-30","k":"p","y":0.157,"lo":0.09,"hi":0.2},
{"s":"NJ","v":"BA.2","d":"2022-09-04","k":"f","y":0.0223},{"s":"NJ","v":"BA.2","d":"2022-11-07","k":"f","y":0.176},

{"s":"NY","v":"nota","d":"2022-08-21","k":"p","y":0.44},{"s":"NY","v":"nota","d":"2022-08-28","k":"p","y":0.461},{"s":"NY","v":"nota","d":"2022-09-04","k":"p","y":0.461},{"s":"NY","v":"nota","d":"2022-09-11","k":"p","y":0.484},{"s":"NY","v":"nota","d":"2022-09-18","k":"p","y":0.508},{"s":"NY","v":"nota","d":"2022-09-25","k":"p","y":0.589},{"s":"NY","v":"nota","d":"2022-10-02","k":"p","y":0.561},{"s":"NY","v":"nota","d":"2022-10-09","k":"p","y":0.535},{"s":"NY","v":"nota","d":"2022-10-16","k":"p","y":0.65},{"s":"NY","v":"nota","d":"2022-10-23","k":"p","y":0.79},{"s":"NY","v":"nota","d":"2022-10-30","k":"p","y":0.873},
{"s":"NY","v":"BQ.1","d":"2022-08-21","k":"p","y":0.0023},{"s":"NY","v":"BQ.1","d":"2022-08-28","k":"p","y":0.0018,"lo":0.0059,"hi":0.0103},{"s":"NY","v":"BQ.1","d":"2022-09-04","k":"p","y":0.01,"lo":0.0085,"hi":0.02},{"s":"NY","v":"BQ.1","d":"2022-09-11","k":"p","y":0.0164},{"s":"NY","v":"BQ.1","d":"2022-09-18","k":"p","y":0.05,"lo":0.04,"hi":0.07},{"s":"NY","v":"BQ.1","d":"2022-09-25","k":"p","y":0.149},{"s":"NY","v":"BQ.1","d":"2022-10-02","k":"p","y":0.282},{"s":"NY","v":"BQ.1","d":"2022-10-09","k":"p","y":0.438},{"s":"NY","v":"BQ.1","d":"2022-10-16","k":"p","y":0.79},{"s":"NY","v":"BQ.1","d":"2022-10-23","k":"p","y":1.43,"lo":1.3,"hi":1.9},{"s":"NY","v":"BQ.1","d":"2022-10-30","k":"p","y":2.33,"lo":2.0,"hi":3.7},
{"s":"NY","v":"BQ.1","d":"2022-08-21","k":"f","y":0.00457},{"s":"NY","v":"BQ.1","d":"2022-11-07","k":"f","y":6.43},
{"s":"NY","v":"BF.7","d":"2022-08-21","k":"p","y":0.0141},{"s":"NY","v":"BF.7","d":"2022-08-28","k":"p","y":0.0295},{"s":"NY","v":"BF.7","d":"2022-09-04","k":"p","y":0.0359},{"s":"NY","v":"BF.7","d":"2022-09-11","k":"p","y":0.0459},{"s":"NY","v":"BF.7","d":"2022-09-18","k":"p","y":0.0532},{"s":"NY","v":"BF.7","d":"2022-09-25","k":"p","y":0.087},{"s":"NY","v":"BF.7","d":"2022-10-02","k":"p","y":0.096},{"s":"NY","v":"BF.7","d":"2022-10-09","k":"p","y":0.111},{"s":"NY","v":"BF.7","d":"2022-10-16","k":"p","y":0.1057},{"s":"NY","v":"BF.7","d":"2022-10-23","k":"p","y":0.142},{"s":"NY","v":"BF.7","d":"2022-10-30","k":"p","y":0.135,"lo":0.12,"hi":0.22},
{"s":"NY","v":"BF.7","d":"2022-08-21","k":"f","y":0.0231},{"s":"NY","v":"BF.7","d":"2022-11-07","k":"f","y":0.333},
{"s":"NY","v":"BA.2","d":"2022-08-21","k":"p","y":0.019},{"s":"NY","v":"BA.2","d":"2022-08-28","k":"p","y":0.0164},{"s":"NY","v":"BA.2","d":"2022-09-04","k":"p","y":0.0342},{"s":"NY","v":"BA.2","d":"2022-09-11","k":"p","y":0.0396},{"s":"NY","v":"BA.2","d":"2022-09-18","k":"p","y":0.0342},{"s":"NY","v":"BA.2","d":"2022-09-25","k":"p","y":0.0325},{"s":"NY","v":"BA.2","d":"2022-10-02","k":"p","y":0.0506},{"s":"NY","v":"BA.2","d":"2022-10-09","k":"p","y":0.0912},{"s":"NY","v":"BA.2","d":"2022-10-16","k":"p","y":0.1225},{"s":"NY","v":"BA.2","d":"2022-10-23","k":"p","y":0.164},{"s":"NY","v":"BA.2","d":"2022-10-30","k":"p","y":0.21},
{"s":"NY","v":"BA.2","d":"2022-09-04","k":"f","y":0.03},{"s":"NY","v":"BA.2","d":"2022-11-07","k":"f","y":0.287},

{"s":"OH","v":"nota","d":"2022-08-21","k":"p","y":0.379},{"s":"OH","v":"nota","d":"2022-08-28","k":"p","y":0.361},{"s":"OH","v":"nota","d":"2022-09-04","k":"p","y":0.508},{"s":"OH","v":"nota","d":"2022-09-11","k":"p","y":0.44},{"s":"OH","v":"nota","d":"2022-09-18","k":"p","y":0.461},{"s":"OH","v":"nota","d":"2022-09-25","k":"p","y":0.44},{"s":"OH","v":"nota","d":"2022-10-02","k":"p","y":0.327},{"s":"OH","v":"nota","d":"2022-10-09","k":"p","y":0.44},{"s":"OH","v":"nota","d":"2022-10-16","k":"p","y":0.379},{"s":"OH","v":"nota","d":"2022-10-23","k":"p","y":0.398},{"s":"OH","v":"nota","d":"2022-10-30","k":"p","y":0.619},
{"s":"OH","v":"BQ.1","d":"2022-08-28","k":"p","y":0.0029},{"s":"OH","v":"BQ.1","d":"2022-09-11","k":"p","y":0.0082,"lo":0.0005,"hi":0.0155},{"s":"OH","v":"BQ.1","d":"2022-09-25","k":"p","y":0.0086},{"s":"OH","v":"BQ.1","d":"2022-10-02","k":"p","y":0.0617,"lo":0.045,"hi":0.09},{"s":"OH","v":"BQ.1","d":"2022-10-09","k":"p","y":0.0482,"lo":0.04,"hi":0.075},{"s":"OH","v":"BQ.1","d":"2022-10-16","k":"p","y":0.1285},{"s":"OH","v":"BQ.1","d":"2022-10-23","k":"p","y":0.149,"lo":0.13,"hi":0.26},{"s":"OH","v":"BQ.1","d":"2022-10-30","k":"p","y":0.561},
{"s":"OH","v":"BQ.1","d":"2022-09-11","k":"f","y":0.0051},{"s":"OH","v":"BQ.1","d":"2022-11-07","k":"f","y":0.79},
{"s":"OH","v":"BF.7","d":"2022-08-21","k":"p","y":0.0056},{"s":"OH","v":"BF.7","d":"2022-08-28","k":"p","y":0.012,"lo":0.008,"hi":0.0216},{"s":"OH","v":"BF.7","d":"2022-09-04","k":"p","y":0.02,"lo":0.0104,"hi":0.0356},{"s":"OH","v":"BF.7","d":"2022-09-11","k":"p","y":0.022,"lo":0.017,"hi":0.036},{"s":"OH","v":"BF.7","d":"2022-09-18","k":"p","y":0.028,"lo":0.02,"hi":0.05},{"s":"OH","v":"BF.7","d":"2022-09-25","k":"p","y":0.0267,"lo":0.0155,"hi":0.049},{"s":"OH","v":"BF.7","d":"2022-10-02","k":"p","y":0.0787,"lo":0.0255,"hi":0.0945},{"s":"OH","v":"BF.7","d":"2022-10-09","k":"p","y":0.117,"lo":0.08,"hi":0.16},{"s":"OH","v":"BF.7","d":"2022-10-16","k":"p","y":0.0679,"lo":0.06,"hi":0.1},{"s":"OH","v":"BF.7","d":"2022-10-23","k":"p","y":0.181,"lo":0.14,"hi":0.25},{"s":"OH","v":"BF.7","d":"2022-10-30","k":"p","y":0.164,"lo":0.13,"hi":0.41},
{"s":"OH","v":"BF.7","d":"2022-08-21","k":"f","y":0.0122},{"s":"OH","v":"BF.7","d":"2022-11-07","k":"f","y":0.269},
{"s":"OH","v":"BA.2","d":"2022-08-21","k":"p","y":0.022},{"s":"OH","v":"BA.2","d":"2022-08-28","k":"p","y":0.0116},{"s":"OH","v":"BA.2","d":"2022-09-04","k":"p","y":0.0209},{"s":"OH","v":"BA.2","d":"2022-09-11","k":"p","y":0.0056,"lo":0.0042,"hi":0.0155},{"s":"OH","v":"BA.2","d":"2022-09-18","k":"p","y":0.022,"lo":0.0042,"hi":0.0274},{"s":"OH","v":"BA.2","d":"2022-09-25","k":"p","y":0.0135,"lo":0.011,"hi":0.019},{"s":"OH","v":"BA.2","d":"2022-10-02","k":"p","y":0.0231,"lo":0.0075,"hi":0.0337},{"s":"OH","v":"BA.2","d":"2022-10-09","k":"p","y":0.0209,"lo":0.0133,"hi":0.0337},{"s":"OH","v":"BA.2","d":"2022-10-16","k":"p","y":0.0437,"lo":0.0155,"hi":0.0679},{"s":"OH","v":"BA.2","d":"2022-10-23","k":"p","y":0.022,"lo":0.0155,"hi":0.0679},{"s":"OH","v":"BA.2","d":"2022-10-30","k":"p","y":0.111,"lo":0.0001,"hi":0.153},
{"s":"OH","v":"BA.2","d":"2022-09-11","k":"f","y":0.01},{"s":"OH","v":"BA.2","d":"2022-11-07","k":"f","y":0.0679},

{"s":"PA","v":"nota","d":"2022-08-21","k":"p","y":0.44},{"s":"PA","v":"nota","d":"2022-08-28","k":"p","y":0.398},{"s":"PA","v":"nota","d":"2022-09-04","k":"p","y":0.398},{"s":"PA","v":"nota","d":"2022-09-11","k":"p","y":0.535},{"s":"PA","v":"nota","d":"2022-09-18","k":"p","y":0.535},{"s":"PA","v":"nota","d":"2022-09-25","k":"p","y":0.484},{"s":"PA","v":"nota","d":"2022-10-02","k":"p","y":0.508},{"s":"PA","v":"nota","d":"2022-10-09","k":"p","y":0.44},{"s":"PA","v":"nota","d":"2022-10-16","k":"p","y":0.508},{"s":"PA","v":"nota","d":"2022-10-23","k":"p","y":0.535},{"s":"PA","v":"nota","d":"2022-10-30","k":"p","y":0.508},
{"s":"PA","v":"BQ.1","d":"2022-08-28","k":"p","y":0.00375},{"s":"PA","v":"BQ.1","d":"2022-09-04","k":"p","y":0.00357},{"s":"PA","v":"BQ.1","d":"2022-09-11","k":"p","y":0.0095,"lo":0.0076,"hi":0.0121},{"s":"PA","v":"BQ.1","d":"2022-09-18","k":"p","y":0.0325,"lo":0.025,"hi":0.04},{"s":"PA","v":"BQ.1","d":"2022-09-25","k":"p","y":0.0416},{"s":"PA","v":"BQ.1","d":"2022-10-02","k":"p","y":0.06,"lo":0.0418,"hi":0.094},{"s":"PA","v":"BQ.1","d":"2022-10-09","k":"p","y":0.1285},{"s":"PA","v":"BQ.1","d":"2022-10-16","k":"p","y":0.173,"lo":0.14,"hi":0.24},{"s":"PA","v":"BQ.1","d":"2022-10-23","k":"p","y":0.5,"lo":0.4,"hi":0.65},{"s":"PA","v":"BQ.1","d":"2022-10-30","k":"p","y":0.418,"lo":0.35,"hi":0.86},
{"s":"PA","v":"BQ.1","d":"2022-09-11","k":"f","y":0.0148},{"s":"PA","v":"BQ.1","d":"2022-11-07","k":"f","y":1.29},
{"s":"PA","v":"BF.7","d":"2022-08-21","k":"p","y":0.0172},{"s":"PA","v":"BF.7","d":"2022-08-28","k":"p","y":0.0019,"lo":0.0095,"hi":0.0216},{"s":"PA","v":"BF.7","d":"2022-09-04","k":"p","y":0.022,"lo":0.013,"hi":0.026},{"s":"PA","v":"BF.7","d":"2022-09-11","k":"p","y":0.0135,"lo":0.014,"hi":0.028},{"s":"PA","v":"BF.7","d":"2022-09-18","k":"p","y":0.0437,"lo":0.033,"hi":0.05},{"s":"PA","v":"BF.7","d":"2022-09-25","k":"p","y":0.0342},{"s":"PA","v":"BF.7","d":"2022-10-02","k":"p","y":0.0506},{"s":"PA","v":"BF.7","d":"2022-10-09","k":"p","y":0.0586},{"s":"PA","v":"BF.7","d":"2022-10-16","k":"p","y":0.087},{"s":"PA","v":"BF.7","d":"2022-10-23","k":"p","y":0.1285},{"s":"PA","v":"BF.7","d":"2022-10-30","k":"p","y":0.1007,"lo":0.094,"hi":0.2},
{"s":"PA","v":"BF.7","d":"2022-08-21","k":"f","y":0.0112},{"s":"PA","v":"BF.7","d":"2022-11-07","k":"f","y":0.1845},
{"s":"PA","v":"BA.2","d":"2022-08-21","k":"p","y":0.0209},{"s":"PA","v":"BA.2","d":"2022-08-28","k":"p","y":0.022},{"s":"PA","v":"BA.2","d":"2022-09-04","k":"p","y":0.0091},{"s":"PA","v":"BA.2","d":"2022-09-11","k":"p","y":0.0209},{"s":"PA","v":"BA.2","d":"2022-09-18","k":"p","y":0.0075,"lo":0.0106,"hi":0.0274},{"s":"PA","v":"BA.2","d":"2022-09-25","k":"p","y":0.0116,"lo":0.01,"hi":0.02},{"s":"PA","v":"BA.2","d":"2022-10-02","k":"p","y":0.0359,"lo":0.0155,"hi":0.053},{"s":"PA","v":"BA.2","d":"2022-10-09","k":"p","y":0.0396,"lo":0.03,"hi":0.066},{"s":"PA","v":"BA.2","d":"2022-10-16","k":"p","y":0.0325,"lo":0.028,"hi":0.066},{"s":"PA","v":"BA.2","d":"2022-10-23","k":"p","y":0.075,"lo":0.037,"hi":0.12},{"s":"PA","v":"BA.2","d":"2022-10-30","k":"p","y":0.0377,"lo":0.036,"hi":0.065},
{"s":"PA","v":"BA.2","d":"2022-09-11","k":"f","y":0.013},{"s":"PA","v":"BA.2","d":"2022-11-07","k":"f","y":0.0912},

{"s":"TX","v":"nota","d":"2022-08-21","k":"p","y":0.344},{"s":"TX","v":"nota","d":"2022-08-28","k":"p","y":0.398},{"s":"TX","v":"nota","d":"2022-09-04","k":"p","y":0.379},{"s":"TX","v":"nota","d":"2022-09-11","k":"p","y":0.361},{"s":"TX","v":"nota","d":"2022-09-18","k":"p","y":0.361},{"s":"TX","v":"nota","d":"2022-09-25","k":"p","y":0.379},{"s":"TX","v":"nota","d":"2022-10-02","k":"p","y":0.269},{"s":"TX","v":"nota","d":"2022-10-09","k":"p","y":0.361},{"s":"TX","v":"nota","d":"2022-10-16","k":"p","y":0.461},{"s":"TX","v":"nota","d":"2022-10-23","k":"p","y":0.379},{"s":"TX","v":"nota","d":"2022-10-30","k":"p","y":0.398},
{"s":"TX","v":"BQ.1","d":"2022-08-21","k":"p","y":0.0019},{"s":"TX","v":"BQ.1","d":"2022-08-28","k":"p","y":0.0023,"lo":0.0018,"hi":0.004},{"s":"TX","v":"BQ.1","d":"2022-09-04","k":"p","y":0.0097,"lo":0.005,"hi":0.0155},{"s":"TX","v":"BQ.1","d":"2022-09-11","k":"p","y":0.016},{"s":"TX","v":"BQ.1","d":"2022-09-18","k":"p","y":0.0172,"lo":0.015,"hi":0.03},{"s":"TX","v":"BQ.1","d":"2022-09-25","k":"p","y":0.0255,"lo":0.02,"hi":0.035},{"s":"TX","v":"BQ.1","d":"2022-10-02","k":"p","y":0.0586,"lo":0.04,"hi":0.09},{"s":"TX","v":"BQ.1","d":"2022-10-09","k":"p","y":0.117},{"s":"TX","v":"BQ.1","d":"2022-10-16","k":"p","y":0.221},{"s":"TX","v":"BQ.1","d":"2022-10-23","k":"p","y":0.508},{"s":"TX","v":"BQ.1","d":"2022-10-30","k":"p","y":0.964,"lo":0.53,"hi":1.14},
{"s":"TX","v":"BQ.1","d":"2022-08-21","k":"f","y":0.00233},{"s":"TX","v":"BQ.1","d":"2022-11-07","k":"f","y":1.4},
{"s":"TX","v":"BF.7","d":"2022-08-21","k":"p","y":0.0058},{"s":"TX","v":"BF.7","d":"2022-08-28","k":"p","y":0.0041,"lo":0.0036,"hi":0.0082},{"s":"TX","v":"BF.7","d":"2022-09-04","k":"p","y":0.00375},{"s":"TX","v":"BF.7","d":"2022-09-11","k":"p","y":0.0172},{"s":"TX","v":"BF.7","d":"2022-09-18","k":"p","y":0.0141},{"s":"TX","v":"BF.7","d":"2022-09-25","k":"p","y":0.0172},{"s":"TX","v":"BF.7","d":"2022-10-02","k":"p","y":0.0267},{"s":"TX","v":"BF.7","d":"2022-10-09","k":"p","y":0.0586,"lo":0.05,"hi":0.075},{"s":"TX","v":"BF.7","d":"2022-10-16","k":"p","y":0.111},{"s":"TX","v":"BF.7","d":"2022-10-23","k":"p","y":0.173,"lo":0.13,"hi":0.22},{"s":"TX","v":"BF.7","d":"2022-10-30","k":"p","y":0.149,"lo":0.087,"hi":0.25},
{"s":"TX","v":"BF.7","d":"2022-08-21","k":"f","y":0.0042},{"s":"TX","v":"BF.7","d":"2022-11-07","k":"f","y":0.273},
{"s":"TX","v":"BA.2","d":"2022-08-21","k":"p","y":0.0172},{"s":"TX","v":"BA.2","d":"2022-08-28","k":"p","y":0.0172},{"s":"TX","v":"BA.2","d":"2022-09-04","k":"p","y":0.0122},{"s":"TX","v":"BA.2","d":"2022-09-11","k":"p","y":0.0156,"lo":0.0095,"hi":0.022},{"s":"TX","v":"BA.2","d":"2022-09-18","k":"p","y":0.0209},{"s":"TX","v":"BA.2","d":"2022-09-25","k":"p","y":0.0242},{"s":"TX","v":"BA.2","d":"2022-10-02","k":"p","y":0.0325},{"s":"TX","v":"BA.2","d":"2022-10-09","k":"p","y":0.0617,"lo":0.045,"hi":0.08},{"s":"TX","v":"BA.2","d":"2022-10-16","k":"p","y":0.096,"lo":0.07,"hi":0.13},{"s":"TX","v":"BA.2","d":"2022-10-23","k":"p","y":0.1007,"lo":0.07,"hi":0.14},{"s":"TX","v":"BA.2","d":"2022-10-30","k":"p","y":0.256,"lo":0.087,"hi":0.3},
{"s":"TX","v":"BA.2","d":"2022-09-11","k":"f","y":0.0141},{"s":"TX","v":"BA.2","d":"2022-11-07","k":"f","y":0.264},

{"s":"VA","v":"nota","d":"2022-08-21","k":"p","y":0.508},{"s":"VA","v":"nota","d":"2022-08-28","k":"p","y":0.535},{"s":"VA","v":"nota","d":"2022-09-04","k":"p","y":0.561},{"s":"VA","v":"nota","d":"2022-09-11","k":"p","y":0.535},{"s":"VA","v":"nota","d":"2022-09-18","k":"p","y":0.619},{"s":"VA","v":"nota","d":"2022-09-25","k":"p","y":0.508},{"s":"VA","v":"nota","d":"2022-10-02","k":"p","y":0.682},{"s":"VA","v":"nota","d":"2022-10-09","k":"p","y":0.589},{"s":"VA","v":"nota","d":"2022-10-16","k":"p","y":0.682},{"s":"VA","v":"nota","d":"2022-10-23","k":"p","y":0.535},{"s":"VA","v":"nota","d":"2022-10-30","k":"p","y":0.65},
{"s":"VA","v":"BQ.1","d":"2022-09-11","k":"p","y":0.011,"lo":0.0066,"hi":0.0149},{"s":"VA","v":"BQ.1","d":"2022-09-18","k":"p","y":0.0148,"lo":0.0113,"hi":0.0199},{"s":"VA","v":"BQ.1","d":"2022-09-25","k":"p","y":0.0377},{"s":"VA","v":"BQ.1","d":"2022-10-02","k":"p","y":0.0912},{"s":"VA","v":"BQ.1","d":"2022-10-09","k":"p","y":0.149,"lo":0.12,"hi":0.18},{"s":"VA","v":"BQ.1","d":"2022-10-16","k":"p","y":0.232,"lo":0.18,"hi":0.3},{"s":"VA","v":"BQ.1","d":"2022-10-23","k":"p","y":0.379},{"s":"VA","v":"BQ.1","d":"2022-10-30","k":"p","y":0.964,"lo":0.8,"hi":1.1},
{"s":"VA","v":"BQ.1","d":"2022-09-11","k":"f","y":0.0113},{"s":"VA","v":"BQ.1","d":"2022-11-07","k":"f","y":1.79},
{"s":"VA","v":"BF.7","d":"2022-08-21","k":"p","y":0.0091},{"s":"VA","v":"BF.7","d":"2022-08-28","k":"p","y":0.0056,"lo":0.0058,"hi":0.0169},{"s":"VA","v":"BF.7","d":"2022-09-04","k":"p","y":0.00457,"lo":0.0087,"hi":0.0216},{"s":"VA","v":"BF.7","d":"2022-09-11","k":"p","y":0.022,"lo":0.014,"hi":0.03},{"s":"VA","v":"BF.7","d":"2022-09-18","k":"p","y":0.0295,"lo":0.022,"hi":0.04},{"s":"VA","v":"BF.7","d":"2022-09-25","k":"p","y":0.0482},{"s":"VA","v":"BF.7","d":"2022-10-02","k":"p","y":0.0482},{"s":"VA","v":"BF.7","d":"2022-10-09","k":"p","y":0.0532},{"s":"VA","v":"BF.7","d":"2022-10-16","k":"p","y":0.1057},{"s":"VA","v":"BF.7","d":"2022-10-23","k":"p","y":0.12,"lo":0.09,"hi":0.17},{"s":"VA","v":"BF.7","d":"2022-10-30","k":"p","y":0.244,"lo":0.18,"hi":0.3},
{"s":"VA","v":"BF.7","d":"2022-08-21","k":"f","y":0.0091},{"s":"VA","v":"BF.7","d":"2022-11-07","k":"f","y":0.244},
{"s":"VA","v":"BA.2","d":"2022-08-21","k":"p","y":0.0156},{"s":"VA","v":"BA.2","d":"2022-08-28","k":"p","y":0.022},{"s":"VA","v":"BA.2","d":"2022-09-04","k":"p","y":0.0181},{"s":"VA","v":"BA.2","d":"2022-09-11","k":"p","y":0.028,"lo":0.0155,"hi":0.035},{"s":"VA","v":"BA.2","d":"2022-09-18","k":"p","y":0.0209,"lo":0.017,"hi":0.03},{"s":"VA","v":"BA.2","d":"2022-09-25","k":"p","y":0.0295,"lo":0.022,"hi":0.035},{"s":"VA","v":"BA.2","d":"2022-10-02","k":"p","y":0.0267,"lo":0.025,"hi":0.05},{"s":"VA","v":"BA.2","d":"2022-10-09","k":"p","y":0.0679,"lo":0.04,"hi":0.08},{"s":"VA","v":"BA.2","d":"2022-10-16","k":"p","y":0.075,"lo":0.045,"hi":0.09},{"s":"VA","v":"BA.2","d":"2022-10-23","k":"p","y":0.1057,"lo":0.06,"hi":0.15},{"s":"VA","v":"BA.2","d":"2022-10-30","k":"p","y":0.111,"lo":0.062,"hi":0.166},
{"s":"VA","v":"BA.2","d":"2022-09-11","k":"f","y":0.0255},{"s":"VA","v":"BA.2","d":"2022-11-07","k":"f","y":0.162},

{"s":"WA","v":"nota","d":"2022-08-21","k":"p","y":0.361},{"s":"WA","v":"nota","d":"2022-08-28","k":"p","y":0.361},{"s":"WA","v":"nota","d":"2022-09-04","k":"p","y":0.418},{"s":"WA","v":"nota","d":"2022-09-11","k":"p","y":0.344},{"s":"WA","v":"nota","d":"2022-09-18","k":"p","y":0.418},{"s":"WA","v":"nota","d":"2022-09-25","k":"p","y":0.418},{"s":"WA","v":"nota","d":"2022-10-02","k":"p","y":0.296},{"s":"WA","v":"nota","d":"2022-10-09","k":"p","y":0.361},{"s":"WA","v":"nota","d":"2022-10-16","k":"p","y":0.398},{"s":"WA","v":"nota","d":"2022-10-23","k":"p","y":0.461},{"s":"WA","v":"nota","d":"2022-10-30","k":"p","y":0.379},{"s":"WA","v":"nota","d":"2022-11-06","k":"p","y":0.282},
{"s":"WA","v":"BQ.1","d":"2022-09-04","k":"p","y":0.00434},{"s":"WA","v":"BQ.1","d":"2022-09-11","k":"p","y":0.0181,"lo":0.0155,"hi":0.0235},{"s":"WA","v":"BQ.1","d":"2022-09-18","k":"p","y":0.022,"lo":0.0175,"hi":0.03},{"s":"WA","v":"BQ.1","d":"2022-09-25","k":"p","y":0.028,"lo":0.02,"hi":0.05},{"s":"WA","v":"BQ.1","d":"2022-10-02","k":"p","y":0.0617,"lo":0.05,"hi":0.075},{"s":"WA","v":"BQ.1","d":"2022-10-09","k":"p","y":0.135},{"s":"WA","v":"BQ.1","d":"2022-10-16","k":"p","y":0.181},{"s":"WA","v":"BQ.1","d":"2022-10-23","k":"p","y":0.361},{"s":"WA","v":"BQ.1","d":"2022-10-30","k":"p","y":0.484,"lo":0.37,"hi":0.6},{"s":"WA","v":"BQ.1","d":"2022-11-06","k":"p","y":0.75,"lo":0.52,"hi":1.53},
{"s":"WA","v":"BQ.1","d":"2022-09-11","k":"f","y":0.0172},{"s":"WA","v":"BQ.1","d":"2022-11-07","k":"f","y":0.902},
{"s":"WA","v":"BF.7","d":"2022-08-21","k":"p","y":0.0056},{"s":"WA","v":"BF.7","d":"2022-08-28","k":"p","y":0.022,"lo":0.0095,"hi":0.031},{"s":"WA","v":"BF.7","d":"2022-09-04","k":"p","y":0.0148,"lo":0.0133,"hi":0.0335},{"s":"WA","v":"BF.7","d":"2022-09-11","k":"p","y":0.0325,"lo":0.026,"hi":0.04},{"s":"WA","v":"BF.7","d":"2022-09-18","k":"p","y":0.0267,"lo":0.02,"hi":0.043},{"s":"WA","v":"BF.7","d":"2022-09-25","k":"p","y":0.0295,"lo":0.02,"hi":0.05},{"s":"WA","v":"BF.7","d":"2022-10-02","k":"p","y":0.0787},{"s":"WA","v":"BF.7","d":"2022-10-09","k":"p","y":0.0714,"lo":0.05,"hi":0.1},{"s":"WA","v":"BF.7","d":"2022-10-16","k":"p","y":0.087},{"s":"WA","v":"BF.7","d":"2022-10-23","k":"p","y":0.142},{"s":"WA","v":"BF.7","d":"2022-10-30","k":"p","y":0.0912,"lo":0.09,"hi":0.2},{"s":"WA","v":"BF.7","d":"2022-11-06","k":"p","y":0.173,"lo":0.15,"hi":0.35},
{"s":"WA","v":"BF.7","d":"2022-08-21","k":"f","y":0.0116},{"s":"WA","v":"BF.7","d":"2022-11-07","k":"f","y":0.214},
{"s":"WA","v":"BA.2","d":"2022-08-21","k":"p","y":0.0342},{"s":"WA","v":"BA.2","d":"2022-08-28","k":"p","y":0.0156},{"s":"WA","v":"BA.2","d":"2022-09-04","k":"p","y":0.0199},{"s":"WA","v":"BA.2","d":"2022-09-11","k":"p","y":0.0128,"lo":0.0081,"hi":0.0172},{"s":"WA","v":"BA.2","d":"2022-09-18","k":"p","y":0.0156,"lo":0.01,"hi":0.02},{"s":"WA","v":"BA.2","d":"2022-09-25","k":"p","y":0.0105},{"s":"WA","v":"BA.2","d":"2022-10-02","k":"p","y":0.0416,"lo":0.025,"hi":0.065},{"s":"WA","v":"BA.2","d":"2022-10-09","k":"p","y":0.0295,"lo":0.03,"hi":0.07},{"s":"WA","v":"BA.2","d":"2022-10-16","k":"p","y":0.0586,"lo":0.038,"hi":0.08},{"s":"WA","v":"BA.2","d":"2022-10-23","k":"p","y":0.087,"lo":0.065,"hi":0.1},{"s":"WA","v":"BA.2","d":"2022-10-30","k":"p","y":0.0714,"lo":0.05,"hi":0.11},{"s":"WA","v":"BA.2","d":"2022-11-06","k":"p","y":0.164,"lo":0.058,"hi":0.21},
{"s":"WA","v":"BA.2","d":"2022-09-11","k":"f","y":0.0132},{"s":"WA","v":"BA.2","d":"2022-11-07","k":"f","y":0.1265},

{"s":"WI","v":"nota","d":"2022-08-21","k":"p","y":0.344},{"s":"WI","v":"nota","d":"2022-08-28","k":"p","y":0.269},{"s":"WI","v":"nota","d":"2022-09-04","k":"p","y":0.418},{"s":"WI","v":"nota","d":"2022-09-11","k":"p","y":0.327},{"s":"WI","v":"nota","d":"2022-09-18","k":"p","y":0.379},{"s":"WI","v":"nota","d":"2022-09-25","k":"p","y":0.379},{"s":"WI","v":"nota","d":"2022-10-02","k":"p","y":0.361},{"s":"WI","v":"nota","d":"2022-10-09","k":"p","y":0.44},{"s":"WI","v":"nota","d":"2022-10-16","k":"p","y":0.619},{"s":"WI","v":"nota","d":"2022-10-23","k":"p","y":0.232},{"s":"WI","v":"nota","d":"2022-10-30","k":"p","y":0.256},
{"s":"WI","v":"BQ.1","d":"2022-09-11","k":"p","y":0.0075},{"s":"WI","v":"BQ.1","d":"2022-09-18","k":"p","y":0.0181},{"s":"WI","v":"BQ.1","d":"2022-09-25","k":"p","y":0.0396},{"s":"WI","v":"BQ.1","d":"2022-10-02","k":"p","y":0.0532,"lo":0.0384,"hi":0.12},{"s":"WI","v":"BQ.1","d":"2022-10-09","k":"p","y":0.21,"lo":0.15,"hi":0.25},{"s":"WI","v":"BQ.1","d":"2022-10-16","k":"p","y":0.232,"lo":0.17,"hi":0.3},{"s":"WI","v":"BQ.1","d":"2022-10-23","k":"p","y":0.311,"lo":0.18,"hi":0.485},{"s":"WI","v":"BQ.1","d":"2022-10-30","k":"p","y":0.508,"lo":0.29,"hi":0.93},
{"s":"WI","v":"BQ.1","d":"2022-09-11","k":"f","y":0.0095},{"s":"WI","v":"BQ.1","d":"2022-11-07","k":"f","y":1.06},
{"s":"WI","v":"BF.7","d":"2022-08-28","k":"p","y":0.0164,"lo":0.0108,"hi":0.031},{"s":"WI","v":"BF.7","d":"2022-09-11","k":"p","y":0.0377,"lo":0.0081,"hi":0.0527},{"s":"WI","v":"BF.7","d":"2022-09-18","k":"p","y":0.025,"lo":0.008,"hi":0.062},{"s":"WI","v":"BF.7","d":"2022-09-25","k":"p","y":0.0267,"lo":0.0122,"hi":0.0865},{"s":"WI","v":"BF.7","d":"2022-10-02","k":"p","y":0.0828,"lo":0.0487,"hi":0.094},{"s":"WI","v":"BF.7","d":"2022-10-09","k":"p","y":0.1225,"lo":0.07,"hi":0.15},{"s":"WI","v":"BF.7","d":"2022-10-16","k":"p","y":0.157,"lo":0.1,"hi":0.18},{"s":"WI","v":"BF.7","d":"2022-10-23","k":"p","y":0.135,"lo":0.07,"hi":0.18},{"s":"WI","v":"BF.7","d":"2022-10-30","k":"p","y":0.1285,"lo":0.058,"hi":0.23},
{"s":"WI","v":"BF.7","d":"2022-08-21","k":"f","y":0.0145},{"s":"WI","v":"BF.7","d":"2022-11-07","k":"f","y":0.244},
{"s":"WI","v":"BA.2","d":"2022-08-21","k":"p","y":0.005},{"s":"WI","v":"BA.2","d":"2022-08-28","k":"p","y":0.0122},{"s":"WI","v":"BA.2","d":"2022-09-04","k":"p","y":0.0105},{"s":"WI","v":"BA.2","d":"2022-09-11","k":"p","y":0.0148,"lo":0.0001,"hi":0.015},{"s":"WI","v":"BA.2","d":"2022-09-18","k":"p","y":0.0091,"lo":0.0001,"hi":0.0256},{"s":"WI","v":"BA.2","d":"2022-09-25","k":"p","y":0.0128,"lo":0.0001,"hi":0.087},{"s":"WI","v":"BA.2","d":"2022-10-02","k":"p","y":0.0105,"lo":0.0001,"hi":0.13},{"s":"WI","v":"BA.2","d":"2022-10-09","k":"p","y":0.0416,"lo":0.02,"hi":0.13},{"s":"WI","v":"BA.2","d":"2022-10-16","k":"p","y":0.0787,"lo":0.04,"hi":0.11},{"s":"WI","v":"BA.2","d":"2022-10-23","k":"p","y":0.173,"lo":0.1,"hi":0.22},{"s":"WI","v":"BA.2","d":"2022-10-30","k":"p","y":0.1905,"lo":0.081,"hi":0.48},
{"s":"WI","v":"BA.2","d":"2022-09-11","k":"f","y":0.0062},{"s":"WI","v":"BA.2","d":"2022-11-07","k":"f","y":0.425}
]},
"concat": [
{"title":{"text":"Legend","offset":-4},"width":197,"height":187,"transform":[{"filter":"datum.s==='Legend'"}],
 "encoding":{"x":{"field":"d","type":"temporal","scale":{"type":"utc","domain":[{"year":2022,"month":8,"date":21,"utc":true},{"year":2022,"month":11,"date":8,"hours":4,"utc":true}]},"axis":{"values":[{"year":2022,"month":9,"date":1,"utc":true},{"year":2022,"month":10,"date":1,"utc":true},{"year":2022,"month":11,"date":1,"utc":true}],"labels":false,"title":null,"tickSize":3.5}},
  "y":{"field":"y","type":"quantitative","scale":{"type":"log","domain":[0.00116,10]},"axis":{"values":[0.002,0.003,0.004,0.005,0.006,0.007,0.008,0.009,0.01,0.02,0.03,0.04,0.05,0.06,0.07,0.08,0.09,0.1,0.2,0.3,0.4,0.5,0.6,0.7,0.8,0.9,1,2,3,4,5,6,7,8,9,10],"labelExpr":"datum.value==10?'10¹':datum.value==1?'10⁰':datum.value==0.1?'10⁻¹':datum.value==0.01?'10⁻²':''","labelOverlap":false,"tickSize":{"condition":{"test":"datum.value==10||datum.value==1||datum.value==0.1||datum.value==0.01","value":3.5},"value":2},"title":"Strain cases / BA.5 cases"}}},
 "layer":[{"mark":{"type":"line"},"encoding":{"color":{"field":"v","type":"nominal","scale":{"domain":["BQ.1","BF.7","BA.2","nota"],"range":["#0000ff","#ff00ff","#008000","#ffa500"]},"legend":{"orient":"none","legendX":74,"legendY":55,"title":null,"symbolType":"M-1,0H3","symbolStrokeWidth":2,"symbolSize":115,"symbolOpacity":0.75,"labelFontSize":10,"labelOffset":18,"strokeColor":"#cccccc","fillColor":"white","padding":2.5,"cornerRadius":3,"rowPadding":2.9}}}}]},
{"title":{"text":"Arizona","offset":1},"width":197,"height":187,"transform":[{"filter":"datum.s==='AZ'"}],
 "encoding":{"x":{"field":"d","type":"temporal","scale":{"type":"utc","domain":[{"year":2022,"month":8,"date":21,"utc":true},{"year":2022,"month":11,"date":8,"hours":4,"utc":true}]},"axis":{"values":[{"year":2022,"month":9,"date":1,"utc":true},{"year":2022,"month":10,"date":1,"utc":true},{"year":2022,"month":11,"date":1,"utc":true}],"labels":false,"title":null,"tickSize":3.5}},
  "y":{"field":"y","type":"quantitative","scale":{"type":"log","domain":[0.00116,10]},"axis":{"values":[0.002,0.003,0.004,0.005,0.006,0.007,0.008,0.009,0.01,0.02,0.03,0.04,0.05,0.06,0.07,0.08,0.09,0.1,0.2,0.3,0.4,0.5,0.6,0.7,0.8,0.9,1,2,3,4,5,6,7,8,9,10],"labels":false,"tickSize":{"condition":{"test":"datum.value==10||datum.value==1||datum.value==0.1||datum.value==0.01","value":3.5},"value":2},"title":null}},
  "color":{"field":"v","type":"nominal","scale":{"domain":["BQ.1","BF.7","BA.2","nota"],"range":["#0000ff","#ff00ff","#008000","#ffa500"]},"legend":null}},
 "layer":[{"transform":[{"filter":"datum.lo != null"}],"mark":{"type":"rule","strokeWidth":1.5,"opacity":0.8,"clip":true},"encoding":{"y":{"field":"lo","type":"quantitative","scale":{"type":"log","domain":[0.00116,10]},"axis":{"values":[0.002,0.003,0.004,0.005,0.006,0.007,0.008,0.009,0.01,0.02,0.03,0.04,0.05,0.06,0.07,0.08,0.09,0.1,0.2,0.3,0.4,0.5,0.6,0.7,0.8,0.9,1,2,3,4,5,6,7,8,9,10],"labels":false,"tickSize":{"condition":{"test":"datum.value==10||datum.value==1||datum.value==0.1||datum.value==0.01","value":3.5},"value":2},"title":null}},"y2":{"field":"hi"}}},{"transform":[{"filter":"datum.k==='f'"}],"mark":{"type":"line","strokeWidth":1.5,"opacity":0.85,"clip":true},"encoding":{}},{"transform":[{"filter":"datum.k==='p'"}],"mark":{"type":"circle","size":28,"opacity":1}}]},
{"title":{"text":"California","offset":1},"width":197,"height":187,"transform":[{"filter":"datum.s==='CA'"}],
 "encoding":{"x":{"field":"d","type":"temporal","scale":{"type":"utc","domain":[{"year":2022,"month":8,"date":21,"utc":true},{"year":2022,"month":11,"date":8,"hours":4,"utc":true}]},"axis":{"values":[{"year":2022,"month":9,"date":1,"utc":true},{"year":2022,"month":10,"date":1,"utc":true},{"year":2022,"month":11,"date":1,"utc":true}],"labels":false,"title":null,"tickSize":3.5}},
  "y":{"field":"y","type":"quantitative","scale":{"type":"log","domain":[0.00116,10]},"axis":{"values":[0.002,0.003,0.004,0.005,0.006,0.007,0.008,0.009,0.01,0.02,0.03,0.04,0.05,0.06,0.07,0.08,0.09,0.1,0.2,0.3,0.4,0.5,0.6,0.7,0.8,0.9,1,2,3,4,5,6,7,8,9,10],"labels":false,"tickSize":{"condition":{"test":"datum.value==10||datum.value==1||datum.value==0.1||datum.value==0.01","value":3.5},"value":2},"title":null}},
  "color":{"field":"v","type":"nominal","scale":{"domain":["BQ.1","BF.7","BA.2","nota"],"range":["#0000ff","#ff00ff","#008000","#ffa500"]},"legend":null}},
 "layer":[{"transform":[{"filter":"datum.lo != null"}],"mark":{"type":"rule","strokeWidth":1.5,"opacity":0.8,"clip":true},"encoding":{"y":{"field":"lo","type":"quantitative","scale":{"type":"log","domain":[0.00116,10]},"axis":{"values":[0.002,0.003,0.004,0.005,0.006,0.007,0.008,0.009,0.01,0.02,0.03,0.04,0.05,0.06,0.07,0.08,0.09,0.1,0.2,0.3,0.4,0.5,0.6,0.7,0.8,0.9,1,2,3,4,5,6,7,8,9,10],"labels":false,"tickSize":{"condition":{"test":"datum.value==10||datum.value==1||datum.value==0.1||datum.value==0.01","value":3.5},"value":2},"title":null}},"y2":{"field":"hi"}}},{"transform":[{"filter":"datum.k==='f'"}],"mark":{"type":"line","strokeWidth":1.5,"opacity":0.85,"clip":true},"encoding":{}},{"transform":[{"filter":"datum.k==='p'"}],"mark":{"type":"circle","size":28,"opacity":1}}]},
{"title":{"text":"Colorado","offset":-4},"width":197,"height":187,"transform":[{"filter":"datum.s==='CO'"}],
 "encoding":{"x":{"field":"d","type":"temporal","scale":{"type":"utc","domain":[{"year":2022,"month":8,"date":21,"utc":true},{"year":2022,"month":11,"date":8,"hours":4,"utc":true}]},"axis":{"values":[{"year":2022,"month":9,"date":1,"utc":true},{"year":2022,"month":10,"date":1,"utc":true},{"year":2022,"month":11,"date":1,"utc":true}],"labels":false,"title":null,"tickSize":3.5}},
  "y":{"field":"y","type":"quantitative","scale":{"type":"log","domain":[0.00116,10]},"axis":{"values":[0.002,0.003,0.004,0.005,0.006,0.007,0.008,0.009,0.01,0.02,0.03,0.04,0.05,0.06,0.07,0.08,0.09,0.1,0.2,0.3,0.4,0.5,0.6,0.7,0.8,0.9,1,2,3,4,5,6,7,8,9,10],"labelExpr":"datum.value==10?'10¹':datum.value==1?'10⁰':datum.value==0.1?'10⁻¹':datum.value==0.01?'10⁻²':''","labelOverlap":false,"tickSize":{"condition":{"test":"datum.value==10||datum.value==1||datum.value==0.1||datum.value==0.01","value":3.5},"value":2},"title":"Strain cases / BA.5 cases"}},
  "color":{"field":"v","type":"nominal","scale":{"domain":["BQ.1","BF.7","BA.2","nota"],"range":["#0000ff","#ff00ff","#008000","#ffa500"]},"legend":null}},
 "layer":[{"transform":[{"filter":"datum.lo != null"}],"mark":{"type":"rule","strokeWidth":1.5,"opacity":0.8,"clip":true},"encoding":{"y":{"field":"lo","type":"quantitative","scale":{"type":"log","domain":[0.00116,10]},"axis":{"values":[0.002,0.003,0.004,0.005,0.006,0.007,0.008,0.009,0.01,0.02,0.03,0.04,0.05,0.06,0.07,0.08,0.09,0.1,0.2,0.3,0.4,0.5,0.6,0.7,0.8,0.9,1,2,3,4,5,6,7,8,9,10],"labelExpr":"datum.value==10?'10¹':datum.value==1?'10⁰':datum.value==0.1?'10⁻¹':datum.value==0.01?'10⁻²':''","labelOverlap":false,"tickSize":{"condition":{"test":"datum.value==10||datum.value==1||datum.value==0.1||datum.value==0.01","value":3.5},"value":2},"title":"Strain cases / BA.5 cases"}},"y2":{"field":"hi"}}},{"transform":[{"filter":"datum.k==='f'"}],"mark":{"type":"line","strokeWidth":1.5,"opacity":0.85,"clip":true},"encoding":{}},{"transform":[{"filter":"datum.k==='p'"}],"mark":{"type":"circle","size":28,"opacity":1}}]},
{"title":{"text":"Florida","offset":1},"width":197,"height":187,"transform":[{"filter":"datum.s==='FL'"}],
 "encoding":{"x":{"field":"d","type":"temporal","scale":{"type":"utc","domain":[{"year":2022,"month":8,"date":21,"utc":true},{"year":2022,"month":11,"date":8,"hours":4,"utc":true}]},"axis":{"values":[{"year":2022,"month":9,"date":1,"utc":true},{"year":2022,"month":10,"date":1,"utc":true},{"year":2022,"month":11,"date":1,"utc":true}],"labels":false,"title":null,"tickSize":3.5}},
  "y":{"field":"y","type":"quantitative","scale":{"type":"log","domain":[0.00116,10]},"axis":{"values":[0.002,0.003,0.004,0.005,0.006,0.007,0.008,0.009,0.01,0.02,0.03,0.04,0.05,0.06,0.07,0.08,0.09,0.1,0.2,0.3,0.4,0.5,0.6,0.7,0.8,0.9,1,2,3,4,5,6,7,8,9,10],"labels":false,"tickSize":{"condition":{"test":"datum.value==10||datum.value==1||datum.value==0.1||datum.value==0.01","value":3.5},"value":2},"title":null}},
  "color":{"field":"v","type":"nominal","scale":{"domain":["BQ.1","BF.7","BA.2","nota"],"range":["#0000ff","#ff00ff","#008000","#ffa500"]},"legend":null}},
 "layer":[{"transform":[{"filter":"datum.lo != null"}],"mark":{"type":"rule","strokeWidth":1.5,"opacity":0.8,"clip":true},"encoding":{"y":{"field":"lo","type":"quantitative","scale":{"type":"log","domain":[0.00116,10]},"axis":{"values":[0.002,0.003,0.004,0.005,0.006,0.007,0.008,0.009,0.01,0.02,0.03,0.04,0.05,0.06,0.07,0.08,0.09,0.1,0.2,0.3,0.4,0.5,0.6,0.7,0.8,0.9,1,2,3,4,5,6,7,8,9,10],"labels":false,"tickSize":{"condition":{"test":"datum.value==10||datum.value==1||datum.value==0.1||datum.value==0.01","value":3.5},"value":2},"title":null}},"y2":{"field":"hi"}}},{"transform":[{"filter":"datum.k==='f'"}],"mark":{"type":"line","strokeWidth":1.5,"opacity":0.85,"clip":true},"encoding":{}},{"transform":[{"filter":"datum.k==='p'"}],"mark":{"type":"circle","size":28,"opacity":1}}]},
{"title":{"text":"Illinois","offset":1},"width":197,"height":187,"transform":[{"filter":"datum.s==='IL'"}],
 "encoding":{"x":{"field":"d","type":"temporal","scale":{"type":"utc","domain":[{"year":2022,"month":8,"date":21,"utc":true},{"year":2022,"month":11,"date":8,"hours":4,"utc":true}]},"axis":{"values":[{"year":2022,"month":9,"date":1,"utc":true},{"year":2022,"month":10,"date":1,"utc":true},{"year":2022,"month":11,"date":1,"utc":true}],"labels":false,"title":null,"tickSize":3.5}},
  "y":{"field":"y","type":"quantitative","scale":{"type":"log","domain":[0.00116,10]},"axis":{"values":[0.002,0.003,0.004,0.005,0.006,0.007,0.008,0.009,0.01,0.02,0.03,0.04,0.05,0.06,0.07,0.08,0.09,0.1,0.2,0.3,0.4,0.5,0.6,0.7,0.8,0.9,1,2,3,4,5,6,7,8,9,10],"labels":false,"tickSize":{"condition":{"test":"datum.value==10||datum.value==1||datum.value==0.1||datum.value==0.01","value":3.5},"value":2},"title":null}},
  "color":{"field":"v","type":"nominal","scale":{"domain":["BQ.1","BF.7","BA.2","nota"],"range":["#0000ff","#ff00ff","#008000","#ffa500"]},"legend":null}},
 "layer":[{"transform":[{"filter":"datum.lo != null"}],"mark":{"type":"rule","strokeWidth":1.5,"opacity":0.8,"clip":true},"encoding":{"y":{"field":"lo","type":"quantitative","scale":{"type":"log","domain":[0.00116,10]},"axis":{"values":[0.002,0.003,0.004,0.005,0.006,0.007,0.008,0.009,0.01,0.02,0.03,0.04,0.05,0.06,0.07,0.08,0.09,0.1,0.2,0.3,0.4,0.5,0.6,0.7,0.8,0.9,1,2,3,4,5,6,7,8,9,10],"labels":false,"tickSize":{"condition":{"test":"datum.value==10||datum.value==1||datum.value==0.1||datum.value==0.01","value":3.5},"value":2},"title":null}},"y2":{"field":"hi"}}},{"transform":[{"filter":"datum.k==='f'"}],"mark":{"type":"line","strokeWidth":1.5,"opacity":0.85,"clip":true},"encoding":{}},{"transform":[{"filter":"datum.k==='p'"}],"mark":{"type":"circle","size":28,"opacity":1}}]},
{"title":{"text":"Massachusetts","offset":-4},"width":197,"height":187,"transform":[{"filter":"datum.s==='MA'"}],
 "encoding":{"x":{"field":"d","type":"temporal","scale":{"type":"utc","domain":[{"year":2022,"month":8,"date":21,"utc":true},{"year":2022,"month":11,"date":8,"hours":4,"utc":true}]},"axis":{"values":[{"year":2022,"month":9,"date":1,"utc":true},{"year":2022,"month":10,"date":1,"utc":true},{"year":2022,"month":11,"date":1,"utc":true}],"labels":false,"title":null,"tickSize":3.5}},
  "y":{"field":"y","type":"quantitative","scale":{"type":"log","domain":[0.00116,10]},"axis":{"values":[0.002,0.003,0.004,0.005,0.006,0.007,0.008,0.009,0.01,0.02,0.03,0.04,0.05,0.06,0.07,0.08,0.09,0.1,0.2,0.3,0.4,0.5,0.6,0.7,0.8,0.9,1,2,3,4,5,6,7,8,9,10],"labelExpr":"datum.value==10?'10¹':datum.value==1?'10⁰':datum.value==0.1?'10⁻¹':datum.value==0.01?'10⁻²':''","labelOverlap":false,"tickSize":{"condition":{"test":"datum.value==10||datum.value==1||datum.value==0.1||datum.value==0.01","value":3.5},"value":2},"title":"Strain cases / BA.5 cases"}},
  "color":{"field":"v","type":"nominal","scale":{"domain":["BQ.1","BF.7","BA.2","nota"],"range":["#0000ff","#ff00ff","#008000","#ffa500"]},"legend":null}},
 "layer":[{"transform":[{"filter":"datum.lo != null"}],"mark":{"type":"rule","strokeWidth":1.5,"opacity":0.8,"clip":true},"encoding":{"y":{"field":"lo","type":"quantitative","scale":{"type":"log","domain":[0.00116,10]},"axis":{"values":[0.002,0.003,0.004,0.005,0.006,0.007,0.008,0.009,0.01,0.02,0.03,0.04,0.05,0.06,0.07,0.08,0.09,0.1,0.2,0.3,0.4,0.5,0.6,0.7,0.8,0.9,1,2,3,4,5,6,7,8,9,10],"labelExpr":"datum.value==10?'10¹':datum.value==1?'10⁰':datum.value==0.1?'10⁻¹':datum.value==0.01?'10⁻²':''","labelOverlap":false,"tickSize":{"condition":{"test":"datum.value==10||datum.value==1||datum.value==0.1||datum.value==0.01","value":3.5},"value":2},"title":"Strain cases / BA.5 cases"}},"y2":{"field":"hi"}}},{"transform":[{"filter":"datum.k==='f'"}],"mark":{"type":"line","strokeWidth":1.5,"opacity":0.85,"clip":true},"encoding":{}},{"transform":[{"filter":"datum.k==='p'"}],"mark":{"type":"circle","size":28,"opacity":1}}]},
{"title":{"text":"Maryland","offset":1},"width":197,"height":187,"transform":[{"filter":"datum.s==='MD'"}],
 "encoding":{"x":{"field":"d","type":"temporal","scale":{"type":"utc","domain":[{"year":2022,"month":8,"date":21,"utc":true},{"year":2022,"month":11,"date":8,"hours":4,"utc":true}]},"axis":{"values":[{"year":2022,"month":9,"date":1,"utc":true},{"year":2022,"month":10,"date":1,"utc":true},{"year":2022,"month":11,"date":1,"utc":true}],"labels":false,"title":null,"tickSize":3.5}},
  "y":{"field":"y","type":"quantitative","scale":{"type":"log","domain":[0.00116,10]},"axis":{"values":[0.002,0.003,0.004,0.005,0.006,0.007,0.008,0.009,0.01,0.02,0.03,0.04,0.05,0.06,0.07,0.08,0.09,0.1,0.2,0.3,0.4,0.5,0.6,0.7,0.8,0.9,1,2,3,4,5,6,7,8,9,10],"labels":false,"tickSize":{"condition":{"test":"datum.value==10||datum.value==1||datum.value==0.1||datum.value==0.01","value":3.5},"value":2},"title":null}},
  "color":{"field":"v","type":"nominal","scale":{"domain":["BQ.1","BF.7","BA.2","nota"],"range":["#0000ff","#ff00ff","#008000","#ffa500"]},"legend":null}},
 "layer":[{"transform":[{"filter":"datum.lo != null"}],"mark":{"type":"rule","strokeWidth":1.5,"opacity":0.8,"clip":true},"encoding":{"y":{"field":"lo","type":"quantitative","scale":{"type":"log","domain":[0.00116,10]},"axis":{"values":[0.002,0.003,0.004,0.005,0.006,0.007,0.008,0.009,0.01,0.02,0.03,0.04,0.05,0.06,0.07,0.08,0.09,0.1,0.2,0.3,0.4,0.5,0.6,0.7,0.8,0.9,1,2,3,4,5,6,7,8,9,10],"labels":false,"tickSize":{"condition":{"test":"datum.value==10||datum.value==1||datum.value==0.1||datum.value==0.01","value":3.5},"value":2},"title":null}},"y2":{"field":"hi"}}},{"transform":[{"filter":"datum.k==='f'"}],"mark":{"type":"line","strokeWidth":1.5,"opacity":0.85,"clip":true},"encoding":{}},{"transform":[{"filter":"datum.k==='p'"}],"mark":{"type":"circle","size":28,"opacity":1}}]},
{"title":{"text":"Michigan","offset":1},"width":197,"height":187,"transform":[{"filter":"datum.s==='MI'"}],
 "encoding":{"x":{"field":"d","type":"temporal","scale":{"type":"utc","domain":[{"year":2022,"month":8,"date":21,"utc":true},{"year":2022,"month":11,"date":8,"hours":4,"utc":true}]},"axis":{"values":[{"year":2022,"month":9,"date":1,"utc":true},{"year":2022,"month":10,"date":1,"utc":true},{"year":2022,"month":11,"date":1,"utc":true}],"labels":false,"title":null,"tickSize":3.5}},
  "y":{"field":"y","type":"quantitative","scale":{"type":"log","domain":[0.00116,10]},"axis":{"values":[0.002,0.003,0.004,0.005,0.006,0.007,0.008,0.009,0.01,0.02,0.03,0.04,0.05,0.06,0.07,0.08,0.09,0.1,0.2,0.3,0.4,0.5,0.6,0.7,0.8,0.9,1,2,3,4,5,6,7,8,9,10],"labels":false,"tickSize":{"condition":{"test":"datum.value==10||datum.value==1||datum.value==0.1||datum.value==0.01","value":3.5},"value":2},"title":null}},
  "color":{"field":"v","type":"nominal","scale":{"domain":["BQ.1","BF.7","BA.2","nota"],"range":["#0000ff","#ff00ff","#008000","#ffa500"]},"legend":null}},
 "layer":[{"transform":[{"filter":"datum.lo != null"}],"mark":{"type":"rule","strokeWidth":1.5,"opacity":0.8,"clip":true},"encoding":{"y":{"field":"lo","type":"quantitative","scale":{"type":"log","domain":[0.00116,10]},"axis":{"values":[0.002,0.003,0.004,0.005,0.006,0.007,0.008,0.009,0.01,0.02,0.03,0.04,0.05,0.06,0.07,0.08,0.09,0.1,0.2,0.3,0.4,0.5,0.6,0.7,0.8,0.9,1,2,3,4,5,6,7,8,9,10],"labels":false,"tickSize":{"condition":{"test":"datum.value==10||datum.value==1||datum.value==0.1||datum.value==0.01","value":3.5},"value":2},"title":null}},"y2":{"field":"hi"}}},{"transform":[{"filter":"datum.k==='f'"}],"mark":{"type":"line","strokeWidth":1.5,"opacity":0.85,"clip":true},"encoding":{}},{"transform":[{"filter":"datum.k==='p'"}],"mark":{"type":"circle","size":28,"opacity":1}}]},
{"title":{"text":"North Carolina","offset":-4},"width":197,"height":187,"transform":[{"filter":"datum.s==='NC'"}],
 "encoding":{"x":{"field":"d","type":"temporal","scale":{"type":"utc","domain":[{"year":2022,"month":8,"date":21,"utc":true},{"year":2022,"month":11,"date":8,"hours":4,"utc":true}]},"axis":{"values":[{"year":2022,"month":9,"date":1,"utc":true},{"year":2022,"month":10,"date":1,"utc":true},{"year":2022,"month":11,"date":1,"utc":true}],"labels":false,"title":null,"tickSize":3.5}},
  "y":{"field":"y","type":"quantitative","scale":{"type":"log","domain":[0.00116,10]},"axis":{"values":[0.002,0.003,0.004,0.005,0.006,0.007,0.008,0.009,0.01,0.02,0.03,0.04,0.05,0.06,0.07,0.08,0.09,0.1,0.2,0.3,0.4,0.5,0.6,0.7,0.8,0.9,1,2,3,4,5,6,7,8,9,10],"labelExpr":"datum.value==10?'10¹':datum.value==1?'10⁰':datum.value==0.1?'10⁻¹':datum.value==0.01?'10⁻²':''","labelOverlap":false,"tickSize":{"condition":{"test":"datum.value==10||datum.value==1||datum.value==0.1||datum.value==0.01","value":3.5},"value":2},"title":"Strain cases / BA.5 cases"}},
  "color":{"field":"v","type":"nominal","scale":{"domain":["BQ.1","BF.7","BA.2","nota"],"range":["#0000ff","#ff00ff","#008000","#ffa500"]},"legend":null}},
 "layer":[{"transform":[{"filter":"datum.lo != null"}],"mark":{"type":"rule","strokeWidth":1.5,"opacity":0.8,"clip":true},"encoding":{"y":{"field":"lo","type":"quantitative","scale":{"type":"log","domain":[0.00116,10]},"axis":{"values":[0.002,0.003,0.004,0.005,0.006,0.007,0.008,0.009,0.01,0.02,0.03,0.04,0.05,0.06,0.07,0.08,0.09,0.1,0.2,0.3,0.4,0.5,0.6,0.7,0.8,0.9,1,2,3,4,5,6,7,8,9,10],"labelExpr":"datum.value==10?'10¹':datum.value==1?'10⁰':datum.value==0.1?'10⁻¹':datum.value==0.01?'10⁻²':''","labelOverlap":false,"tickSize":{"condition":{"test":"datum.value==10||datum.value==1||datum.value==0.1||datum.value==0.01","value":3.5},"value":2},"title":"Strain cases / BA.5 cases"}},"y2":{"field":"hi"}}},{"transform":[{"filter":"datum.k==='f'"}],"mark":{"type":"line","strokeWidth":1.5,"opacity":0.85,"clip":true},"encoding":{}},{"transform":[{"filter":"datum.k==='p'"}],"mark":{"type":"circle","size":28,"opacity":1}}]},
{"title":{"text":"New Jersey","offset":1},"width":197,"height":187,"transform":[{"filter":"datum.s==='NJ'"}],
 "encoding":{"x":{"field":"d","type":"temporal","scale":{"type":"utc","domain":[{"year":2022,"month":8,"date":21,"utc":true},{"year":2022,"month":11,"date":8,"hours":4,"utc":true}]},"axis":{"values":[{"year":2022,"month":9,"date":1,"utc":true},{"year":2022,"month":10,"date":1,"utc":true},{"year":2022,"month":11,"date":1,"utc":true}],"labels":false,"title":null,"tickSize":3.5}},
  "y":{"field":"y","type":"quantitative","scale":{"type":"log","domain":[0.00116,10]},"axis":{"values":[0.002,0.003,0.004,0.005,0.006,0.007,0.008,0.009,0.01,0.02,0.03,0.04,0.05,0.06,0.07,0.08,0.09,0.1,0.2,0.3,0.4,0.5,0.6,0.7,0.8,0.9,1,2,3,4,5,6,7,8,9,10],"labels":false,"tickSize":{"condition":{"test":"datum.value==10||datum.value==1||datum.value==0.1||datum.value==0.01","value":3.5},"value":2},"title":null}},
  "color":{"field":"v","type":"nominal","scale":{"domain":["BQ.1","BF.7","BA.2","nota"],"range":["#0000ff","#ff00ff","#008000","#ffa500"]},"legend":null}},
 "layer":[{"transform":[{"filter":"datum.lo != null"}],"mark":{"type":"rule","strokeWidth":1.5,"opacity":0.8,"clip":true},"encoding":{"y":{"field":"lo","type":"quantitative","scale":{"type":"log","domain":[0.00116,10]},"axis":{"values":[0.002,0.003,0.004,0.005,0.006,0.007,0.008,0.009,0.01,0.02,0.03,0.04,0.05,0.06,0.07,0.08,0.09,0.1,0.2,0.3,0.4,0.5,0.6,0.7,0.8,0.9,1,2,3,4,5,6,7,8,9,10],"labels":false,"tickSize":{"condition":{"test":"datum.value==10||datum.value==1||datum.value==0.1||datum.value==0.01","value":3.5},"value":2},"title":null}},"y2":{"field":"hi"}}},{"transform":[{"filter":"datum.k==='f'"}],"mark":{"type":"line","strokeWidth":1.5,"opacity":0.85,"clip":true},"encoding":{}},{"transform":[{"filter":"datum.k==='p'"}],"mark":{"type":"circle","size":28,"opacity":1}}]},
{"title":{"text":"New York","offset":1},"width":197,"height":187,"transform":[{"filter":"datum.s==='NY'"}],
 "encoding":{"x":{"field":"d","type":"temporal","scale":{"type":"utc","domain":[{"year":2022,"month":8,"date":21,"utc":true},{"year":2022,"month":11,"date":8,"hours":4,"utc":true}]},"axis":{"values":[{"year":2022,"month":9,"date":1,"utc":true},{"year":2022,"month":10,"date":1,"utc":true},{"year":2022,"month":11,"date":1,"utc":true}],"labels":false,"title":null,"tickSize":3.5}},
  "y":{"field":"y","type":"quantitative","scale":{"type":"log","domain":[0.00116,10]},"axis":{"values":[0.002,0.003,0.004,0.005,0.006,0.007,0.008,0.009,0.01,0.02,0.03,0.04,0.05,0.06,0.07,0.08,0.09,0.1,0.2,0.3,0.4,0.5,0.6,0.7,0.8,0.9,1,2,3,4,5,6,7,8,9,10],"labels":false,"tickSize":{"condition":{"test":"datum.value==10||datum.value==1||datum.value==0.1||datum.value==0.01","value":3.5},"value":2},"title":null}},
  "color":{"field":"v","type":"nominal","scale":{"domain":["BQ.1","BF.7","BA.2","nota"],"range":["#0000ff","#ff00ff","#008000","#ffa500"]},"legend":null}},
 "layer":[{"transform":[{"filter":"datum.lo != null"}],"mark":{"type":"rule","strokeWidth":1.5,"opacity":0.8,"clip":true},"encoding":{"y":{"field":"lo","type":"quantitative","scale":{"type":"log","domain":[0.00116,10]},"axis":{"values":[0.002,0.003,0.004,0.005,0.006,0.007,0.008,0.009,0.01,0.02,0.03,0.04,0.05,0.06,0.07,0.08,0.09,0.1,0.2,0.3,0.4,0.5,0.6,0.7,0.8,0.9,1,2,3,4,5,6,7,8,9,10],"labels":false,"tickSize":{"condition":{"test":"datum.value==10||datum.value==1||datum.value==0.1||datum.value==0.01","value":3.5},"value":2},"title":null}},"y2":{"field":"hi"}}},{"transform":[{"filter":"datum.k==='f'"}],"mark":{"type":"line","strokeWidth":1.5,"opacity":0.85,"clip":true},"encoding":{}},{"transform":[{"filter":"datum.k==='p'"}],"mark":{"type":"circle","size":28,"opacity":1}}]},
{"title":{"text":"Ohio","offset":-4},"width":197,"height":187,"transform":[{"filter":"datum.s==='OH'"}],
 "encoding":{"x":{"field":"d","type":"temporal","scale":{"type":"utc","domain":[{"year":2022,"month":8,"date":21,"utc":true},{"year":2022,"month":11,"date":8,"hours":4,"utc":true}]},"axis":{"values":[{"year":2022,"month":9,"date":1,"utc":true},{"year":2022,"month":10,"date":1,"utc":true},{"year":2022,"month":11,"date":1,"utc":true}],"labels":false,"title":null,"tickSize":3.5}},
  "y":{"field":"y","type":"quantitative","scale":{"type":"log","domain":[0.00116,10]},"axis":{"values":[0.002,0.003,0.004,0.005,0.006,0.007,0.008,0.009,0.01,0.02,0.03,0.04,0.05,0.06,0.07,0.08,0.09,0.1,0.2,0.3,0.4,0.5,0.6,0.7,0.8,0.9,1,2,3,4,5,6,7,8,9,10],"labelExpr":"datum.value==10?'10¹':datum.value==1?'10⁰':datum.value==0.1?'10⁻¹':datum.value==0.01?'10⁻²':''","labelOverlap":false,"tickSize":{"condition":{"test":"datum.value==10||datum.value==1||datum.value==0.1||datum.value==0.01","value":3.5},"value":2},"title":"Strain cases / BA.5 cases"}},
  "color":{"field":"v","type":"nominal","scale":{"domain":["BQ.1","BF.7","BA.2","nota"],"range":["#0000ff","#ff00ff","#008000","#ffa500"]},"legend":null}},
 "layer":[{"transform":[{"filter":"datum.lo != null"}],"mark":{"type":"rule","strokeWidth":1.5,"opacity":0.8,"clip":true},"encoding":{"y":{"field":"lo","type":"quantitative","scale":{"type":"log","domain":[0.00116,10]},"axis":{"values":[0.002,0.003,0.004,0.005,0.006,0.007,0.008,0.009,0.01,0.02,0.03,0.04,0.05,0.06,0.07,0.08,0.09,0.1,0.2,0.3,0.4,0.5,0.6,0.7,0.8,0.9,1,2,3,4,5,6,7,8,9,10],"labelExpr":"datum.value==10?'10¹':datum.value==1?'10⁰':datum.value==0.1?'10⁻¹':datum.value==0.01?'10⁻²':''","labelOverlap":false,"tickSize":{"condition":{"test":"datum.value==10||datum.value==1||datum.value==0.1||datum.value==0.01","value":3.5},"value":2},"title":"Strain cases / BA.5 cases"}},"y2":{"field":"hi"}}},{"transform":[{"filter":"datum.k==='f'"}],"mark":{"type":"line","strokeWidth":1.5,"opacity":0.85,"clip":true},"encoding":{}},{"transform":[{"filter":"datum.k==='p'"}],"mark":{"type":"circle","size":28,"opacity":1}}]},
{"title":{"text":"Pennsylvania","offset":1},"width":197,"height":187,"transform":[{"filter":"datum.s==='PA'"}],
 "encoding":{"x":{"field":"d","type":"temporal","scale":{"type":"utc","domain":[{"year":2022,"month":8,"date":21,"utc":true},{"year":2022,"month":11,"date":8,"hours":4,"utc":true}]},"axis":{"values":[{"year":2022,"month":9,"date":1,"utc":true},{"year":2022,"month":10,"date":1,"utc":true},{"year":2022,"month":11,"date":1,"utc":true}],"labels":false,"title":null,"tickSize":3.5}},
  "y":{"field":"y","type":"quantitative","scale":{"type":"log","domain":[0.00116,10]},"axis":{"values":[0.002,0.003,0.004,0.005,0.006,0.007,0.008,0.009,0.01,0.02,0.03,0.04,0.05,0.06,0.07,0.08,0.09,0.1,0.2,0.3,0.4,0.5,0.6,0.7,0.8,0.9,1,2,3,4,5,6,7,8,9,10],"labels":false,"tickSize":{"condition":{"test":"datum.value==10||datum.value==1||datum.value==0.1||datum.value==0.01","value":3.5},"value":2},"title":null}},
  "color":{"field":"v","type":"nominal","scale":{"domain":["BQ.1","BF.7","BA.2","nota"],"range":["#0000ff","#ff00ff","#008000","#ffa500"]},"legend":null}},
 "layer":[{"transform":[{"filter":"datum.lo != null"}],"mark":{"type":"rule","strokeWidth":1.5,"opacity":0.8,"clip":true},"encoding":{"y":{"field":"lo","type":"quantitative","scale":{"type":"log","domain":[0.00116,10]},"axis":{"values":[0.002,0.003,0.004,0.005,0.006,0.007,0.008,0.009,0.01,0.02,0.03,0.04,0.05,0.06,0.07,0.08,0.09,0.1,0.2,0.3,0.4,0.5,0.6,0.7,0.8,0.9,1,2,3,4,5,6,7,8,9,10],"labels":false,"tickSize":{"condition":{"test":"datum.value==10||datum.value==1||datum.value==0.1||datum.value==0.01","value":3.5},"value":2},"title":null}},"y2":{"field":"hi"}}},{"transform":[{"filter":"datum.k==='f'"}],"mark":{"type":"line","strokeWidth":1.5,"opacity":0.85,"clip":true},"encoding":{}},{"transform":[{"filter":"datum.k==='p'"}],"mark":{"type":"circle","size":28,"opacity":1}}]},
{"title":{"text":"Texas","offset":1},"width":197,"height":187,"transform":[{"filter":"datum.s==='TX'"}],
 "encoding":{"x":{"field":"d","type":"temporal","scale":{"type":"utc","domain":[{"year":2022,"month":8,"date":21,"utc":true},{"year":2022,"month":11,"date":8,"hours":4,"utc":true}]},"axis":{"values":[{"year":2022,"month":9,"date":1,"utc":true},{"year":2022,"month":10,"date":1,"utc":true},{"year":2022,"month":11,"date":1,"utc":true}],"labels":false,"title":null,"tickSize":3.5}},
  "y":{"field":"y","type":"quantitative","scale":{"type":"log","domain":[0.00116,10]},"axis":{"values":[0.002,0.003,0.004,0.005,0.006,0.007,0.008,0.009,0.01,0.02,0.03,0.04,0.05,0.06,0.07,0.08,0.09,0.1,0.2,0.3,0.4,0.5,0.6,0.7,0.8,0.9,1,2,3,4,5,6,7,8,9,10],"labels":false,"tickSize":{"condition":{"test":"datum.value==10||datum.value==1||datum.value==0.1||datum.value==0.01","value":3.5},"value":2},"title":null}},
  "color":{"field":"v","type":"nominal","scale":{"domain":["BQ.1","BF.7","BA.2","nota"],"range":["#0000ff","#ff00ff","#008000","#ffa500"]},"legend":null}},
 "layer":[{"transform":[{"filter":"datum.lo != null"}],"mark":{"type":"rule","strokeWidth":1.5,"opacity":0.8,"clip":true},"encoding":{"y":{"field":"lo","type":"quantitative","scale":{"type":"log","domain":[0.00116,10]},"axis":{"values":[0.002,0.003,0.004,0.005,0.006,0.007,0.008,0.009,0.01,0.02,0.03,0.04,0.05,0.06,0.07,0.08,0.09,0.1,0.2,0.3,0.4,0.5,0.6,0.7,0.8,0.9,1,2,3,4,5,6,7,8,9,10],"labels":false,"tickSize":{"condition":{"test":"datum.value==10||datum.value==1||datum.value==0.1||datum.value==0.01","value":3.5},"value":2},"title":null}},"y2":{"field":"hi"}}},{"transform":[{"filter":"datum.k==='f'"}],"mark":{"type":"line","strokeWidth":1.5,"opacity":0.85,"clip":true},"encoding":{}},{"transform":[{"filter":"datum.k==='p'"}],"mark":{"type":"circle","size":28,"opacity":1}}]},
{"title":{"text":"Virginia","offset":-4},"width":197,"height":187,"transform":[{"filter":"datum.s==='VA'"}],
 "encoding":{"x":{"field":"d","type":"temporal","scale":{"type":"utc","domain":[{"year":2022,"month":8,"date":21,"utc":true},{"year":2022,"month":11,"date":8,"hours":4,"utc":true}]},"axis":{"values":[{"year":2022,"month":9,"date":1,"utc":true},{"year":2022,"month":10,"date":1,"utc":true},{"year":2022,"month":11,"date":1,"utc":true}],"format":"%b","labelFlush":false,"title":"starting date of epi-week","tickSize":3.5}},
  "y":{"field":"y","type":"quantitative","scale":{"type":"log","domain":[0.00116,10]},"axis":{"values":[0.002,0.003,0.004,0.005,0.006,0.007,0.008,0.009,0.01,0.02,0.03,0.04,0.05,0.06,0.07,0.08,0.09,0.1,0.2,0.3,0.4,0.5,0.6,0.7,0.8,0.9,1,2,3,4,5,6,7,8,9,10],"labelExpr":"datum.value==10?'10¹':datum.value==1?'10⁰':datum.value==0.1?'10⁻¹':datum.value==0.01?'10⁻²':''","labelOverlap":false,"tickSize":{"condition":{"test":"datum.value==10||datum.value==1||datum.value==0.1||datum.value==0.01","value":3.5},"value":2},"title":"Strain cases / BA.5 cases"}},
  "color":{"field":"v","type":"nominal","scale":{"domain":["BQ.1","BF.7","BA.2","nota"],"range":["#0000ff","#ff00ff","#008000","#ffa500"]},"legend":null}},
 "layer":[{"transform":[{"filter":"datum.lo != null"}],"mark":{"type":"rule","strokeWidth":1.5,"opacity":0.8,"clip":true},"encoding":{"y":{"field":"lo","type":"quantitative","scale":{"type":"log","domain":[0.00116,10]},"axis":{"values":[0.002,0.003,0.004,0.005,0.006,0.007,0.008,0.009,0.01,0.02,0.03,0.04,0.05,0.06,0.07,0.08,0.09,0.1,0.2,0.3,0.4,0.5,0.6,0.7,0.8,0.9,1,2,3,4,5,6,7,8,9,10],"labelExpr":"datum.value==10?'10¹':datum.value==1?'10⁰':datum.value==0.1?'10⁻¹':datum.value==0.01?'10⁻²':''","labelOverlap":false,"tickSize":{"condition":{"test":"datum.value==10||datum.value==1||datum.value==0.1||datum.value==0.01","value":3.5},"value":2},"title":"Strain cases / BA.5 cases"}},"y2":{"field":"hi"}}},{"transform":[{"filter":"datum.k==='f'"}],"mark":{"type":"line","strokeWidth":1.5,"opacity":0.85,"clip":true},"encoding":{}},{"transform":[{"filter":"datum.k==='p'"}],"mark":{"type":"circle","size":28,"opacity":1}}]},
{"title":{"text":"Washington","offset":1},"width":197,"height":187,"transform":[{"filter":"datum.s==='WA'"}],
 "encoding":{"x":{"field":"d","type":"temporal","scale":{"type":"utc","domain":[{"year":2022,"month":8,"date":21,"utc":true},{"year":2022,"month":11,"date":8,"hours":4,"utc":true}]},"axis":{"values":[{"year":2022,"month":9,"date":1,"utc":true},{"year":2022,"month":10,"date":1,"utc":true},{"year":2022,"month":11,"date":1,"utc":true}],"format":"%b","labelFlush":false,"title":"starting date of epi-week","tickSize":3.5}},
  "y":{"field":"y","type":"quantitative","scale":{"type":"log","domain":[0.00116,10]},"axis":{"values":[0.002,0.003,0.004,0.005,0.006,0.007,0.008,0.009,0.01,0.02,0.03,0.04,0.05,0.06,0.07,0.08,0.09,0.1,0.2,0.3,0.4,0.5,0.6,0.7,0.8,0.9,1,2,3,4,5,6,7,8,9,10],"labels":false,"tickSize":{"condition":{"test":"datum.value==10||datum.value==1||datum.value==0.1||datum.value==0.01","value":3.5},"value":2},"title":null}},
  "color":{"field":"v","type":"nominal","scale":{"domain":["BQ.1","BF.7","BA.2","nota"],"range":["#0000ff","#ff00ff","#008000","#ffa500"]},"legend":null}},
 "layer":[{"transform":[{"filter":"datum.lo != null"}],"mark":{"type":"rule","strokeWidth":1.5,"opacity":0.8,"clip":true},"encoding":{"y":{"field":"lo","type":"quantitative","scale":{"type":"log","domain":[0.00116,10]},"axis":{"values":[0.002,0.003,0.004,0.005,0.006,0.007,0.008,0.009,0.01,0.02,0.03,0.04,0.05,0.06,0.07,0.08,0.09,0.1,0.2,0.3,0.4,0.5,0.6,0.7,0.8,0.9,1,2,3,4,5,6,7,8,9,10],"labels":false,"tickSize":{"condition":{"test":"datum.value==10||datum.value==1||datum.value==0.1||datum.value==0.01","value":3.5},"value":2},"title":null}},"y2":{"field":"hi"}}},{"transform":[{"filter":"datum.k==='f'"}],"mark":{"type":"line","strokeWidth":1.5,"opacity":0.85,"clip":true},"encoding":{}},{"transform":[{"filter":"datum.k==='p'"}],"mark":{"type":"circle","size":28,"opacity":1}}]},
{"title":{"text":"Wisconsin","offset":1},"width":197,"height":187,"transform":[{"filter":"datum.s==='WI'"}],
 "encoding":{"x":{"field":"d","type":"temporal","scale":{"type":"utc","domain":[{"year":2022,"month":8,"date":21,"utc":true},{"year":2022,"month":11,"date":8,"hours":4,"utc":true}]},"axis":{"values":[{"year":2022,"month":9,"date":1,"utc":true},{"year":2022,"month":10,"date":1,"utc":true},{"year":2022,"month":11,"date":1,"utc":true}],"format":"%b","labelFlush":false,"title":"starting date of epi-week","tickSize":3.5}},
  "y":{"field":"y","type":"quantitative","scale":{"type":"log","domain":[0.00116,10]},"axis":{"values":[0.002,0.003,0.004,0.005,0.006,0.007,0.008,0.009,0.01,0.02,0.03,0.04,0.05,0.06,0.07,0.08,0.09,0.1,0.2,0.3,0.4,0.5,0.6,0.7,0.8,0.9,1,2,3,4,5,6,7,8,9,10],"labels":false,"tickSize":{"condition":{"test":"datum.value==10||datum.value==1||datum.value==0.1||datum.value==0.01","value":3.5},"value":2},"title":null}},
  "color":{"field":"v","type":"nominal","scale":{"domain":["BQ.1","BF.7","BA.2","nota"],"range":["#0000ff","#ff00ff","#008000","#ffa500"]},"legend":null}},
 "layer":[{"transform":[{"filter":"datum.lo != null"}],"mark":{"type":"rule","strokeWidth":1.5,"opacity":0.8,"clip":true},"encoding":{"y":{"field":"lo","type":"quantitative","scale":{"type":"log","domain":[0.00116,10]},"axis":{"values":[0.002,0.003,0.004,0.005,0.006,0.007,0.008,0.009,0.01,0.02,0.03,0.04,0.05,0.06,0.07,0.08,0.09,0.1,0.2,0.3,0.4,0.5,0.6,0.7,0.8,0.9,1,2,3,4,5,6,7,8,9,10],"labels":false,"tickSize":{"condition":{"test":"datum.value==10||datum.value==1||datum.value==0.1||datum.value==0.01","value":3.5},"value":2},"title":null}},"y2":{"field":"hi"}}},{"transform":[{"filter":"datum.k==='f'"}],"mark":{"type":"line","strokeWidth":1.5,"opacity":0.85,"clip":true},"encoding":{}},{"transform":[{"filter":"datum.k==='p'"}],"mark":{"type":"circle","size":28,"opacity":1}}]}
],
"config": {
 "font": "DejaVu Sans",
 "view": {"stroke": "black", "strokeWidth": 0.8},
 "axis": {"domainColor": "black", "domainWidth": 0.8, "tickColor": "black", "tickWidth": 0.8, "labelColor": "black", "labelFontSize": 10, "titleFontSize": 10, "titleFontWeight": "normal", "titleColor": "black", "grid": false, "labelPadding": 3.5, "labelFont": "DejaVu Sans", "titleFont": "DejaVu Sans"},
 "title": {"fontSize": 12, "fontWeight": "normal", "color": "black", "font": "DejaVu Sans", "frame": "group", "baseline": "alphabetic"},
 "legend": {"labelFont": "DejaVu Sans", "labelColor": "black"}
}
}
